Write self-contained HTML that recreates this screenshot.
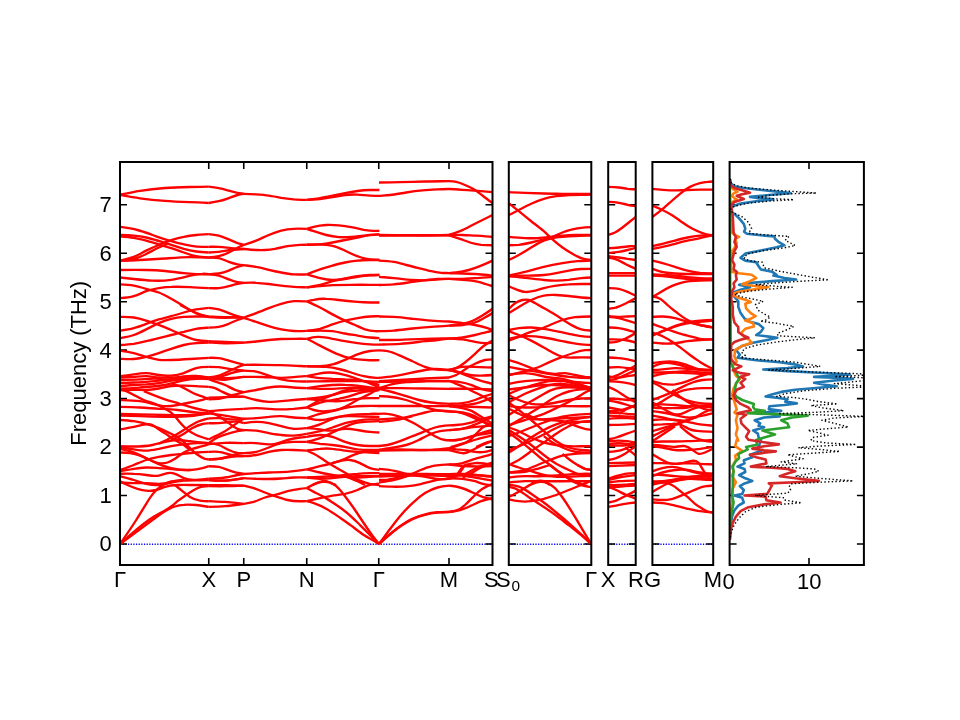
<!DOCTYPE html><html><head><meta charset="utf-8"><title>Phonon band structure</title>
<style>html,body{margin:0;padding:0;background:#fff;}body{width:960px;height:720px;overflow:hidden;font-family:"Liberation Sans",sans-serif;}svg{display:block}text{font-family:"Liberation Sans",sans-serif;fill:#000}</style></head><body>
<svg width="960" height="720" viewBox="0 0 960 720">
<rect width="960" height="720" fill="#fff"/>
<defs>
<clipPath id="c0"><rect x="120.00" y="162.00" width="372.50" height="403.00"/></clipPath>
<clipPath id="c1"><rect x="508.80" y="162.00" width="82.50" height="403.00"/></clipPath>
<clipPath id="c2"><rect x="608.20" y="162.00" width="27.50" height="403.00"/></clipPath>
<clipPath id="c3"><rect x="652.40" y="162.00" width="60.80" height="403.00"/></clipPath>
<clipPath id="c4"><rect x="729.60" y="162.00" width="134.30" height="403.00"/></clipPath>
</defs>
<line x1="120.00" y1="544.25" x2="492.50" y2="544.25" stroke="#0000ff" stroke-width="1.3" stroke-dasharray="1.2 1.46"/>
<line x1="508.80" y1="544.25" x2="591.30" y2="544.25" stroke="#0000ff" stroke-width="1.3" stroke-dasharray="1.2 1.46"/>
<line x1="608.20" y1="544.25" x2="635.70" y2="544.25" stroke="#0000ff" stroke-width="1.3" stroke-dasharray="1.2 1.46"/>
<line x1="652.40" y1="544.25" x2="713.20" y2="544.25" stroke="#0000ff" stroke-width="1.3" stroke-dasharray="1.2 1.46"/>
<path d="M120.00 544.00h7M492.50 544.00h-7M120.00 495.54h7M492.50 495.54h-7M120.00 447.08h7M492.50 447.08h-7M120.00 398.62h7M492.50 398.62h-7M120.00 350.16h7M492.50 350.16h-7M120.00 301.70h7M492.50 301.70h-7M120.00 253.24h7M492.50 253.24h-7M120.00 204.78h7M492.50 204.78h-7M508.80 544.00h7M591.30 544.00h-7M508.80 495.54h7M591.30 495.54h-7M508.80 447.08h7M591.30 447.08h-7M508.80 398.62h7M591.30 398.62h-7M508.80 350.16h7M591.30 350.16h-7M508.80 301.70h7M591.30 301.70h-7M508.80 253.24h7M591.30 253.24h-7M508.80 204.78h7M591.30 204.78h-7M608.20 544.00h7M635.70 544.00h-7M608.20 495.54h7M635.70 495.54h-7M608.20 447.08h7M635.70 447.08h-7M608.20 398.62h7M635.70 398.62h-7M608.20 350.16h7M635.70 350.16h-7M608.20 301.70h7M635.70 301.70h-7M608.20 253.24h7M635.70 253.24h-7M608.20 204.78h7M635.70 204.78h-7M652.40 544.00h7M713.20 544.00h-7M652.40 495.54h7M713.20 495.54h-7M652.40 447.08h7M713.20 447.08h-7M652.40 398.62h7M713.20 398.62h-7M652.40 350.16h7M713.20 350.16h-7M652.40 301.70h7M713.20 301.70h-7M652.40 253.24h7M713.20 253.24h-7M652.40 204.78h7M713.20 204.78h-7M729.60 544.00h7M863.90 544.00h-7M729.60 495.54h7M863.90 495.54h-7M729.60 447.08h7M863.90 447.08h-7M729.60 398.62h7M863.90 398.62h-7M729.60 350.16h7M863.90 350.16h-7M729.60 301.70h7M863.90 301.70h-7M729.60 253.24h7M863.90 253.24h-7M729.60 204.78h7M863.90 204.78h-7M208.75 162.00v7M208.75 565.00v-7M243.75 162.00v7M243.75 565.00v-7M306.75 162.00v7M306.75 565.00v-7M378.75 162.00v7M378.75 565.00v-7M449.00 162.00v7M449.00 565.00v-7M809.00 162.00v7M809.00 565.00v-7" stroke="#000" stroke-width="1.6" fill="none"/>
<path clip-path="url(#c0)" d="M120.0 194.7C126.7 193.3 133.3 191.9 140.0 190.8C148.3 189.5 156.7 188.6 165.0 188.0C173.3 187.4 181.7 187.2 190.0 187.0C196.2 186.9 202.5 186.8 208.8 186.6" stroke="#ff0000" stroke-width="2.35" fill="none" stroke-linejoin="round"/>
<path clip-path="url(#c0)" d="M120.0 195.0C126.7 196.2 133.3 197.4 140.0 198.3C148.3 199.5 156.7 200.3 165.0 200.8C173.3 201.4 181.7 201.8 190.0 202.2C196.2 202.4 202.5 202.7 208.8 203.0" stroke="#ff0000" stroke-width="2.35" fill="none" stroke-linejoin="round"/>
<path clip-path="url(#c0)" d="M120.0 226.9C125.8 227.7 131.7 228.5 137.5 230.0C142.5 231.3 147.5 233.2 152.5 235.0C156.7 236.5 160.8 238.1 165.0 239.4C169.2 240.7 173.3 241.8 177.5 242.9C181.7 243.9 185.8 244.9 190.0 245.6C194.2 246.3 198.3 246.8 202.5 246.9C204.6 246.9 206.7 246.9 208.8 246.8" stroke="#ff0000" stroke-width="2.35" fill="none" stroke-linejoin="round"/>
<path clip-path="url(#c0)" d="M120.0 235.0C124.6 235.1 129.2 235.2 133.8 235.6C137.9 236.0 142.1 236.6 146.2 237.5C150.4 238.4 154.6 239.8 158.8 241.0C162.9 242.2 167.1 243.4 171.2 244.8C175.4 246.1 179.6 247.5 183.8 248.8C187.9 250.0 192.1 250.9 196.2 251.5C200.4 252.1 204.6 252.3 208.8 252.5" stroke="#ff0000" stroke-width="2.35" fill="none" stroke-linejoin="round"/>
<path clip-path="url(#c0)" d="M120.0 236.2C124.6 236.6 129.2 237.0 133.8 237.8C137.9 238.4 142.1 239.5 146.2 240.6C150.4 241.8 154.6 243.1 158.8 244.4C162.9 245.6 167.1 246.8 171.2 248.1C175.4 249.5 179.6 251.0 183.8 252.5C187.9 254.0 192.1 255.4 196.2 256.2C200.4 257.1 204.6 257.3 208.8 257.5" stroke="#ff0000" stroke-width="2.35" fill="none" stroke-linejoin="round"/>
<path clip-path="url(#c0)" d="M120.0 260.6C124.6 259.7 129.2 258.7 133.8 256.9C137.9 255.2 142.1 252.7 146.2 250.6C150.4 248.5 154.6 246.7 158.8 245.0C162.9 243.3 167.1 241.6 171.2 240.2C175.4 238.9 179.6 237.7 183.8 236.9C187.9 236.0 192.1 235.4 196.2 235.0C200.4 234.6 204.6 234.4 208.8 234.1" stroke="#ff0000" stroke-width="2.35" fill="none" stroke-linejoin="round"/>
<path clip-path="url(#c0)" d="M120.0 260.6C124.6 260.4 129.2 260.2 133.8 259.0C137.9 257.9 142.1 256.1 146.2 254.0C150.4 251.9 154.6 249.4 158.8 247.5C161.7 246.2 164.6 245.1 167.5 244.0" stroke="#ff0000" stroke-width="2.35" fill="none" stroke-linejoin="round"/>
<path clip-path="url(#c0)" d="M120.0 260.6C126.7 260.5 133.3 260.3 140.0 260.0C148.3 259.6 156.7 259.1 165.0 258.5C173.3 257.9 181.7 257.2 190.0 257.1C196.2 257.1 202.5 257.3 208.8 257.6" stroke="#ff0000" stroke-width="2.35" fill="none" stroke-linejoin="round"/>
<path clip-path="url(#c0)" d="M120.0 270.0C128.8 269.9 137.5 269.8 146.2 270.0C152.5 270.1 158.8 270.4 165.0 271.0C171.2 271.6 177.5 272.5 183.8 273.1C187.9 273.6 192.1 273.9 196.2 274.1C200.4 274.3 204.6 274.3 208.8 274.4" stroke="#ff0000" stroke-width="2.35" fill="none" stroke-linejoin="round"/>
<path clip-path="url(#c0)" d="M120.0 277.5C124.6 278.0 129.2 278.5 133.8 279.0C140.0 279.7 146.2 280.4 152.5 280.6C158.8 280.9 165.0 280.7 171.2 279.8C177.5 278.8 183.8 277.1 190.0 275.6C194.2 274.7 198.3 273.8 202.5 273.8C204.6 273.7 206.7 273.9 208.8 274.1" stroke="#ff0000" stroke-width="2.35" fill="none" stroke-linejoin="round"/>
<path clip-path="url(#c0)" d="M120.0 284.4C124.6 284.6 129.2 284.8 133.8 285.6C137.9 286.4 142.1 287.6 146.2 288.8C150.4 289.9 154.6 290.9 158.8 292.5C162.9 294.1 167.1 296.4 171.2 298.8C175.4 301.1 179.6 303.7 183.8 306.2C187.9 308.8 192.1 311.4 196.2 313.1C200.4 314.8 204.6 315.7 208.8 316.6" stroke="#ff0000" stroke-width="2.35" fill="none" stroke-linejoin="round"/>
<path clip-path="url(#c0)" d="M120.0 298.1C124.6 297.9 129.2 297.6 133.8 296.2C137.9 295.0 142.1 292.8 146.2 291.2C150.4 289.7 154.6 288.8 158.8 288.1C162.9 287.5 167.1 287.0 171.2 286.9C177.5 286.6 183.8 286.9 190.0 287.2C196.2 287.6 202.5 287.9 208.8 288.2" stroke="#ff0000" stroke-width="2.35" fill="none" stroke-linejoin="round"/>
<path clip-path="url(#c0)" d="M180.0 305.0C183.3 306.6 186.7 308.3 190.0 310.0C193.3 311.7 196.7 313.5 200.0 314.8C202.9 315.8 205.8 316.5 208.8 317.1" stroke="#ff0000" stroke-width="2.35" fill="none" stroke-linejoin="round"/>
<path clip-path="url(#c0)" d="M120.0 330.6C124.6 330.0 129.2 329.4 133.8 328.1C137.9 327.0 142.1 325.4 146.2 323.8C150.4 322.1 154.6 320.6 158.8 319.4C162.9 318.2 167.1 317.4 171.2 316.2C175.4 315.1 179.6 313.8 183.8 312.5C187.9 311.2 192.1 310.1 196.2 309.4C200.4 308.6 204.6 308.3 208.8 307.9" stroke="#ff0000" stroke-width="2.35" fill="none" stroke-linejoin="round"/>
<path clip-path="url(#c0)" d="M120.0 316.9C124.6 316.9 129.2 316.8 133.8 317.5C137.9 318.1 142.1 319.3 146.2 320.6C150.4 322.0 154.6 323.4 158.8 325.0C162.9 326.6 167.1 328.2 171.2 330.0C175.4 331.8 179.6 333.8 183.8 335.6C187.9 337.4 192.1 339.1 196.2 340.0C200.4 340.9 204.6 341.1 208.8 341.2" stroke="#ff0000" stroke-width="2.35" fill="none" stroke-linejoin="round"/>
<path clip-path="url(#c0)" d="M120.0 338.1C124.6 337.3 129.2 336.6 133.8 335.0C137.9 333.6 142.1 331.5 146.2 329.4C150.4 327.2 154.6 325.0 158.8 323.1C162.9 321.3 167.1 319.8 171.2 318.8C175.4 317.7 179.6 317.2 183.8 316.9C187.9 316.6 192.1 316.5 196.2 316.5C200.4 316.5 204.6 316.5 208.8 316.6" stroke="#ff0000" stroke-width="2.35" fill="none" stroke-linejoin="round"/>
<path clip-path="url(#c0)" d="M120.0 345.0C124.6 344.7 129.2 344.4 133.8 343.8C137.9 343.1 142.1 342.2 146.2 341.2C150.4 340.3 154.6 339.2 158.8 338.1C162.9 337.1 167.1 336.0 171.2 335.0C175.4 334.0 179.6 333.0 183.8 331.9C187.9 330.7 192.1 329.5 196.2 328.8C200.4 328.0 204.6 327.9 208.8 327.7" stroke="#ff0000" stroke-width="2.35" fill="none" stroke-linejoin="round"/>
<path clip-path="url(#c0)" d="M120.0 350.6C124.6 351.3 129.2 352.0 133.8 353.1C137.9 354.2 142.1 355.6 146.2 356.9C150.4 358.1 154.6 359.2 158.8 359.8C162.9 360.3 167.1 360.2 171.2 360.0C177.5 359.8 183.8 359.4 190.0 359.0C196.2 358.6 202.5 358.2 208.8 357.8" stroke="#ff0000" stroke-width="2.35" fill="none" stroke-linejoin="round"/>
<path clip-path="url(#c0)" d="M120.0 358.8C124.6 359.0 129.2 359.3 133.8 359.0C137.9 358.7 142.1 357.9 146.2 356.9C150.4 355.8 154.6 354.5 158.8 353.1C162.9 351.7 167.1 350.2 171.2 348.8C175.4 347.3 179.6 346.0 183.8 345.0C187.9 344.0 192.1 343.5 196.2 343.1C200.4 342.8 204.6 342.6 208.8 342.5" stroke="#ff0000" stroke-width="2.35" fill="none" stroke-linejoin="round"/>
<path clip-path="url(#c0)" d="M120.0 376.2C124.6 375.7 129.2 375.1 133.8 374.4C137.9 373.7 142.1 373.0 146.2 373.1C150.4 373.3 154.6 374.4 158.8 375.0C162.9 375.6 167.1 375.9 171.2 375.6C175.4 375.4 179.6 374.6 183.8 373.1C187.9 371.6 192.1 369.3 196.2 368.1C200.4 366.9 204.6 366.8 208.8 366.8" stroke="#ff0000" stroke-width="2.35" fill="none" stroke-linejoin="round"/>
<path clip-path="url(#c0)" d="M120.0 377.5C124.6 377.4 129.2 377.2 133.8 376.9C137.9 376.6 142.1 376.1 146.2 376.2C150.4 376.4 154.6 377.2 158.8 377.5C162.9 377.8 167.1 377.7 171.2 377.5C175.4 377.3 179.6 377.2 183.8 376.9C187.9 376.6 192.1 376.1 196.2 376.2C200.4 376.4 204.6 377.0 208.8 377.6" stroke="#ff0000" stroke-width="2.35" fill="none" stroke-linejoin="round"/>
<path clip-path="url(#c0)" d="M120.0 380.0C126.7 379.9 133.3 379.8 140.0 379.4C146.2 379.0 152.5 378.2 158.8 378.8C162.9 379.1 167.1 380.0 171.2 380.0C175.4 380.0 179.6 379.2 183.8 378.8C187.9 378.3 192.1 378.3 196.2 378.1C200.4 378.0 204.6 377.7 208.8 377.5" stroke="#ff0000" stroke-width="2.35" fill="none" stroke-linejoin="round"/>
<path clip-path="url(#c0)" d="M120.0 383.1C124.6 382.9 129.2 382.7 133.8 382.5C137.9 382.3 142.1 382.2 146.2 381.9C150.4 381.6 154.6 381.1 158.8 380.6C162.9 380.1 167.1 379.5 171.2 378.8C175.4 378.0 179.6 377.1 183.8 376.5C187.9 375.9 192.1 375.7 196.2 376.0C200.4 376.3 204.6 377.3 208.8 378.2" stroke="#ff0000" stroke-width="2.35" fill="none" stroke-linejoin="round"/>
<path clip-path="url(#c0)" d="M120.0 386.2C124.6 385.8 129.2 385.3 133.8 385.0C137.9 384.7 142.1 384.6 146.2 384.4C150.4 384.1 154.6 383.8 158.8 383.1C162.9 382.4 167.1 381.4 171.2 380.6C175.4 379.8 179.6 379.2 183.8 378.8C187.9 378.3 192.1 378.0 196.2 378.1C200.4 378.2 204.6 378.7 208.8 379.2" stroke="#ff0000" stroke-width="2.35" fill="none" stroke-linejoin="round"/>
<path clip-path="url(#c0)" d="M120.0 388.8C122.5 388.7 125.0 388.6 127.5 388.5C131.7 388.3 135.8 387.9 140.0 387.5C144.2 387.1 148.3 386.8 152.5 386.5C156.7 386.2 160.8 385.8 165.0 385.0C168.3 384.4 171.7 383.4 175.0 382.5C178.3 381.6 181.7 380.6 185.0 380.0C188.8 379.3 192.5 379.0 196.2 378.8C200.4 378.5 204.6 378.4 208.8 378.3" stroke="#ff0000" stroke-width="2.35" fill="none" stroke-linejoin="round"/>
<path clip-path="url(#c0)" d="M120.0 390.0C124.6 389.8 129.2 389.7 133.8 389.8C137.9 389.8 142.1 390.1 146.2 390.0C150.4 389.9 154.6 389.3 158.8 388.5C162.9 387.7 167.1 386.5 171.2 386.0C175.4 385.5 179.6 385.5 183.8 385.6C187.9 385.8 192.1 386.0 196.2 386.2C200.4 386.5 204.6 386.7 208.8 386.9" stroke="#ff0000" stroke-width="2.35" fill="none" stroke-linejoin="round"/>
<path clip-path="url(#c0)" d="M171.2 384.4C174.2 384.8 177.1 385.2 180.0 386.2C182.5 387.2 185.0 388.6 187.5 390.0C190.4 391.6 193.3 393.2 196.2 394.4C199.2 395.5 202.1 396.2 205.0 397.5C206.2 398.1 207.5 398.7 208.8 399.4" stroke="#ff0000" stroke-width="2.35" fill="none" stroke-linejoin="round"/>
<path clip-path="url(#c0)" d="M120.0 389.8C122.1 390.1 124.2 390.5 126.2 391.2C129.2 392.3 132.1 394.0 135.0 395.6C137.9 397.3 140.8 398.8 143.8 400.0C147.9 401.7 152.1 402.7 156.2 404.4C159.2 405.6 162.1 407.2 165.0 408.8C167.9 410.3 170.8 412.0 173.8 415.0C175.8 417.2 177.9 420.0 180.0 422.5C182.1 425.0 184.2 427.0 186.2 428.8C189.6 431.5 192.9 433.5 196.2 435.0C200.4 436.9 204.6 438.1 208.8 439.4" stroke="#ff0000" stroke-width="2.35" fill="none" stroke-linejoin="round"/>
<path clip-path="url(#c0)" d="M143.8 391.2C147.9 392.9 152.1 394.6 156.2 396.2C160.4 397.9 164.6 399.4 168.8 400.6C172.5 401.7 176.2 402.6 180.0 403.8C183.3 404.7 186.7 405.9 190.0 406.9C194.2 408.1 198.3 409.1 202.5 410.0C204.6 410.4 206.7 410.8 208.8 411.2" stroke="#ff0000" stroke-width="2.35" fill="none" stroke-linejoin="round"/>
<path clip-path="url(#c0)" d="M120.0 400.0C126.7 400.2 133.3 400.3 140.0 401.2C144.2 401.8 148.3 402.7 152.5 403.8C156.7 404.8 160.8 406.0 165.0 406.2C169.2 406.5 173.3 405.8 177.5 405.0C181.7 404.2 185.8 403.3 190.0 402.5C194.2 401.7 198.3 401.0 202.5 399.8C204.6 399.1 206.7 398.4 208.8 397.6" stroke="#ff0000" stroke-width="2.35" fill="none" stroke-linejoin="round"/>
<path clip-path="url(#c0)" d="M120.0 406.9C126.7 407.0 133.3 407.1 140.0 407.5C146.2 407.8 152.5 408.4 158.8 408.8C165.0 409.1 171.2 409.3 177.5 410.0C183.8 410.7 190.0 411.8 196.2 412.5C200.4 413.0 204.6 413.2 208.8 413.4" stroke="#ff0000" stroke-width="2.35" fill="none" stroke-linejoin="round"/>
<path clip-path="url(#c0)" d="M120.0 413.8C126.7 414.0 133.3 414.2 140.0 414.4C148.3 414.6 156.7 414.8 165.0 415.0C173.3 415.2 181.7 415.4 190.0 415.0C196.2 414.7 202.5 414.1 208.8 413.4" stroke="#ff0000" stroke-width="2.35" fill="none" stroke-linejoin="round"/>
<path clip-path="url(#c0)" d="M120.0 415.6C126.7 415.8 133.3 416.0 140.0 416.2C148.3 416.5 156.7 416.7 165.0 416.9C173.3 417.0 181.7 417.1 190.0 416.2C196.2 415.6 202.5 414.5 208.8 413.4" stroke="#ff0000" stroke-width="2.35" fill="none" stroke-linejoin="round"/>
<path clip-path="url(#c0)" d="M120.0 420.0C124.6 420.3 129.2 420.6 133.8 421.2C137.9 421.8 142.1 422.6 146.2 423.8C150.4 424.9 154.6 426.4 158.8 428.1C162.9 429.8 167.1 431.8 171.2 433.8C174.2 435.1 177.1 436.5 180.0 438.8C183.3 441.3 186.7 444.9 190.0 448.1C192.1 450.2 194.2 452.1 196.2 453.8C199.2 456.1 202.1 457.9 205.0 458.8C206.2 459.1 207.5 459.3 208.8 459.5" stroke="#ff0000" stroke-width="2.35" fill="none" stroke-linejoin="round"/>
<path clip-path="url(#c0)" d="M120.0 429.4C124.6 428.6 129.2 427.9 133.8 426.9C137.9 426.0 142.1 424.8 146.2 424.4C148.3 424.1 150.4 424.1 152.5 425.0C154.6 425.9 156.7 427.8 158.8 429.4C161.7 431.6 164.6 433.1 167.5 435.0C170.0 436.6 172.5 438.5 175.0 440.0C177.9 441.8 180.8 443.0 183.8 445.0C185.8 446.4 187.9 448.2 190.0 450.0" stroke="#ff0000" stroke-width="2.35" fill="none" stroke-linejoin="round"/>
<path clip-path="url(#c0)" d="M158.8 443.8C162.9 441.8 167.1 439.8 171.2 437.5C175.4 435.2 179.6 432.7 183.8 430.0C187.9 427.3 192.1 424.5 196.2 422.5C200.4 420.5 204.6 419.5 208.8 418.4" stroke="#ff0000" stroke-width="2.35" fill="none" stroke-linejoin="round"/>
<path clip-path="url(#c0)" d="M171.2 440.0C175.4 438.1 179.6 436.3 183.8 433.8C186.7 432.0 189.6 429.8 192.5 428.1C195.8 426.2 199.2 424.7 202.5 424.0C204.6 423.5 206.7 423.4 208.8 423.2" stroke="#ff0000" stroke-width="2.35" fill="none" stroke-linejoin="round"/>
<path clip-path="url(#c0)" d="M120.0 446.2C130.8 446.7 141.7 447.2 152.5 445.0C156.7 444.1 160.8 442.9 165.0 441.9C169.2 440.8 173.3 440.0 177.5 440.0C181.7 440.0 185.8 440.7 190.0 441.2C196.2 442.1 202.5 442.6 208.8 443.1" stroke="#ff0000" stroke-width="2.35" fill="none" stroke-linejoin="round"/>
<path clip-path="url(#c0)" d="M120.0 447.5C124.6 448.1 129.2 448.7 133.8 449.4C137.9 450.0 142.1 450.7 146.2 450.6C150.4 450.5 154.6 449.6 158.8 448.8C162.9 447.9 167.1 447.0 171.2 446.2C175.4 445.5 179.6 444.9 183.8 444.4C187.9 443.8 192.1 443.3 196.2 443.1C200.4 442.9 204.6 443.0 208.8 443.1" stroke="#ff0000" stroke-width="2.35" fill="none" stroke-linejoin="round"/>
<path clip-path="url(#c0)" d="M120.0 448.8C123.3 449.5 126.7 450.3 130.0 451.2C133.3 452.2 136.7 453.5 140.0 455.0C144.2 456.9 148.3 459.2 152.5 461.2C155.8 462.9 159.2 464.4 162.5 465.6C165.4 466.7 168.3 467.5 171.2 468.1C177.5 469.5 183.8 470.3 190.0 470.0C194.2 469.8 198.3 469.2 202.5 468.1C204.6 467.6 206.7 466.9 208.8 466.2" stroke="#ff0000" stroke-width="2.35" fill="none" stroke-linejoin="round"/>
<path clip-path="url(#c0)" d="M120.0 452.5C123.3 452.6 126.7 452.7 130.0 453.1C133.3 453.6 136.7 454.4 140.0 455.6C143.3 456.8 146.7 458.5 150.0 460.0C152.9 461.3 155.8 462.6 158.8 463.1C161.7 463.6 164.6 463.4 167.5 462.5C170.0 461.7 172.5 460.4 175.0 458.8C177.9 456.8 180.8 454.3 183.8 452.5C186.7 450.7 189.6 449.6 192.5 448.8C195.8 447.8 199.2 447.2 202.5 446.2C204.6 445.7 206.7 445.0 208.8 444.2" stroke="#ff0000" stroke-width="2.35" fill="none" stroke-linejoin="round"/>
<path clip-path="url(#c0)" d="M120.0 470.0C124.6 468.4 129.2 466.8 133.8 465.0C137.9 463.3 142.1 461.4 146.2 460.0C150.4 458.6 154.6 457.7 158.8 456.9C162.9 456.1 167.1 455.5 171.2 455.0C175.4 454.5 179.6 454.2 183.8 453.8C187.9 453.3 192.1 452.8 196.2 452.5C200.4 452.2 204.6 452.0 208.8 451.9" stroke="#ff0000" stroke-width="2.35" fill="none" stroke-linejoin="round"/>
<path clip-path="url(#c0)" d="M120.0 471.2C124.6 470.4 129.2 469.5 133.8 468.8C137.9 468.1 142.1 467.6 146.2 467.5C150.4 467.4 154.6 467.8 158.8 468.1C162.9 468.4 167.1 468.6 171.2 469.0C174.2 469.3 177.1 469.6 180.0 469.8C183.3 470.0 186.7 470.0 190.0 470.0" stroke="#ff0000" stroke-width="2.35" fill="none" stroke-linejoin="round"/>
<path clip-path="url(#c0)" d="M120.0 473.8C124.6 473.6 129.2 473.5 133.8 473.8C137.9 473.9 142.1 474.4 146.2 475.0C150.4 475.6 154.6 476.5 158.8 475.6C161.7 475.0 164.6 473.7 167.5 473.1C170.0 472.7 172.5 472.8 175.0 473.8C177.9 474.8 180.8 476.9 183.8 478.1C187.9 479.9 192.1 480.0 196.2 479.8C200.4 479.5 204.6 479.1 208.8 478.6" stroke="#ff0000" stroke-width="2.35" fill="none" stroke-linejoin="round"/>
<path clip-path="url(#c0)" d="M120.0 476.2C124.6 477.4 129.2 478.6 133.8 480.0C137.9 481.3 142.1 482.7 146.2 483.8C150.4 484.8 154.6 485.3 158.8 485.0C162.9 484.7 167.1 483.4 171.2 482.5C175.4 481.6 179.6 480.9 183.8 480.6C187.9 480.3 192.1 480.3 196.2 480.2C200.4 480.2 204.6 480.2 208.8 480.1" stroke="#ff0000" stroke-width="2.35" fill="none" stroke-linejoin="round"/>
<path clip-path="url(#c0)" d="M120.0 481.2C122.5 482.6 125.0 483.9 127.5 485.0C130.8 486.5 134.2 487.8 137.5 488.8C140.4 489.6 143.3 490.3 146.2 490.6C149.6 491.0 152.9 490.9 156.2 490.0C159.2 489.2 162.1 487.8 165.0 486.9C169.2 485.5 173.3 485.1 177.5 485.0C181.7 484.9 185.8 484.9 190.0 485.0C196.2 485.1 202.5 485.1 208.8 485.1" stroke="#ff0000" stroke-width="2.35" fill="none" stroke-linejoin="round"/>
<path clip-path="url(#c0)" d="M120.0 482.5C124.6 482.8 129.2 483.1 133.8 483.1C137.9 483.2 142.1 483.0 146.2 483.1C150.4 483.3 154.6 483.8 158.8 483.8C162.9 483.7 167.1 483.1 171.2 482.5" stroke="#ff0000" stroke-width="2.35" fill="none" stroke-linejoin="round"/>
<path clip-path="url(#c0)" d="M120.0 544.0C125.4 536.3 130.8 528.6 136.2 520.0C139.6 514.7 142.9 509.1 146.2 503.8C148.3 500.4 150.4 497.1 152.5 494.4C154.6 491.6 156.7 489.5 158.8 487.8C160.8 486.0 162.9 484.7 165.0 483.8C167.1 482.8 169.2 482.0 171.2 481.5C175.4 480.4 179.6 480.1 183.8 479.8" stroke="#ff0000" stroke-width="2.35" fill="none" stroke-linejoin="round"/>
<path clip-path="url(#c0)" d="M120.0 544.0C129.6 535.4 139.2 526.7 148.8 520.0C152.1 517.7 155.4 515.6 158.8 513.8C162.9 511.5 167.1 509.7 171.2 506.5C173.3 504.9 175.4 503.0 177.5 501.2C180.4 498.9 183.3 497.0 186.2 495.0C189.6 492.8 192.9 490.4 196.2 488.8C198.3 487.7 200.4 486.9 202.5 486.5C204.6 486.1 206.7 486.1 208.8 486.1" stroke="#ff0000" stroke-width="2.35" fill="none" stroke-linejoin="round"/>
<path clip-path="url(#c0)" d="M120.0 544.0C130.8 536.0 141.7 528.1 152.5 520.0C156.7 516.9 160.8 513.8 165.0 511.2C168.3 509.2 171.7 507.6 175.0 506.5C177.9 505.5 180.8 505.0 183.8 504.8C187.9 504.4 192.1 504.6 196.2 505.0C200.4 505.4 204.6 506.2 208.8 506.9" stroke="#ff0000" stroke-width="2.35" fill="none" stroke-linejoin="round"/>
<path clip-path="url(#c0)" d="M175.0 485.0C177.5 487.1 180.0 489.2 182.5 491.2C185.0 493.3 187.5 495.3 190.0 496.9C193.3 498.9 196.7 500.1 200.0 500.6C202.9 501.1 205.8 501.2 208.8 501.2" stroke="#ff0000" stroke-width="2.35" fill="none" stroke-linejoin="round"/>
<path clip-path="url(#c0)" d="M208.8 186.6C212.1 187.1 215.4 187.5 218.8 188.1C222.1 188.8 225.4 189.7 228.8 190.6C231.7 191.5 234.6 192.3 237.5 192.9C239.6 193.3 241.7 193.5 243.8 193.8" stroke="#ff0000" stroke-width="2.35" fill="none" stroke-linejoin="round"/>
<path clip-path="url(#c0)" d="M208.8 203.0C212.1 202.5 215.4 202.0 218.8 201.2C222.1 200.5 225.4 199.4 228.8 198.1C231.7 197.0 234.6 195.8 237.5 195.0C239.6 194.4 241.7 194.1 243.8 193.8" stroke="#ff0000" stroke-width="2.35" fill="none" stroke-linejoin="round"/>
<path clip-path="url(#c0)" d="M243.8 193.8C247.9 193.9 252.1 194.1 256.2 194.4C260.4 194.7 264.6 195.0 268.8 195.6C272.9 196.2 277.1 197.0 281.2 197.8C285.4 198.5 289.6 199.0 293.8 199.4C298.1 199.7 302.4 199.8 306.8 199.9" stroke="#ff0000" stroke-width="2.35" fill="none" stroke-linejoin="round"/>
<path clip-path="url(#c0)" d="M208.8 234.1C212.1 234.4 215.4 234.8 218.8 235.6C222.1 236.5 225.4 237.9 228.8 239.4C231.7 240.7 234.6 242.1 237.5 243.1C239.6 243.8 241.7 244.3 243.8 244.8" stroke="#ff0000" stroke-width="2.35" fill="none" stroke-linejoin="round"/>
<path clip-path="url(#c0)" d="M208.8 257.5C212.1 257.3 215.4 257.0 218.8 256.2C222.9 255.3 227.1 253.5 231.2 251.2C233.3 250.1 235.4 248.9 237.5 247.8C239.6 246.6 241.7 245.7 243.8 244.8" stroke="#ff0000" stroke-width="2.35" fill="none" stroke-linejoin="round"/>
<path clip-path="url(#c0)" d="M208.8 246.8C212.1 246.8 215.4 246.7 218.8 246.9C222.9 247.1 227.1 247.7 231.2 248.1C235.4 248.5 239.6 248.8 243.8 249.0" stroke="#ff0000" stroke-width="2.35" fill="none" stroke-linejoin="round"/>
<path clip-path="url(#c0)" d="M208.8 252.5C212.1 252.4 215.4 252.3 218.8 251.9C222.9 251.4 227.1 250.5 231.2 250.0C235.4 249.5 239.6 249.2 243.8 249.0" stroke="#ff0000" stroke-width="2.35" fill="none" stroke-linejoin="round"/>
<path clip-path="url(#c0)" d="M243.8 244.8C247.9 243.5 252.1 242.3 256.2 240.6C260.4 238.9 264.6 236.8 268.8 235.0C272.9 233.2 277.1 231.7 281.2 230.6C285.4 229.6 289.6 229.0 293.8 228.8C298.1 228.5 302.4 228.7 306.8 228.9" stroke="#ff0000" stroke-width="2.35" fill="none" stroke-linejoin="round"/>
<path clip-path="url(#c0)" d="M243.8 249.0C247.9 249.4 252.1 249.8 256.2 250.0C259.2 250.1 262.1 250.2 265.0 250.0C268.3 249.8 271.7 249.4 275.0 248.8C279.2 248.0 283.3 247.0 287.5 246.2C291.7 245.5 295.8 244.9 300.0 244.8C302.2 244.7 304.5 244.7 306.8 244.7" stroke="#ff0000" stroke-width="2.35" fill="none" stroke-linejoin="round"/>
<path clip-path="url(#c0)" d="M208.8 257.6C212.1 257.5 215.4 257.4 218.8 258.1C222.1 258.9 225.4 260.6 228.8 261.9C231.7 263.0 234.6 263.8 237.5 264.4C239.6 264.8 241.7 265.0 243.8 265.2" stroke="#ff0000" stroke-width="2.35" fill="none" stroke-linejoin="round"/>
<path clip-path="url(#c0)" d="M208.8 274.1C212.1 274.0 215.4 274.0 218.8 273.5C222.1 273.0 225.4 272.0 228.8 270.6C231.7 269.4 234.6 267.9 237.5 266.9C239.6 266.2 241.7 265.7 243.8 265.2" stroke="#ff0000" stroke-width="2.35" fill="none" stroke-linejoin="round"/>
<path clip-path="url(#c0)" d="M208.8 274.4C212.1 274.6 215.4 274.8 218.8 275.6C222.1 276.5 225.4 278.0 228.8 279.4C231.7 280.6 234.6 281.7 237.5 282.2C239.6 282.6 241.7 282.7 243.8 282.8" stroke="#ff0000" stroke-width="2.35" fill="none" stroke-linejoin="round"/>
<path clip-path="url(#c0)" d="M208.8 288.2C212.1 288.3 215.4 288.4 218.8 288.1C222.1 287.8 225.4 287.2 228.8 286.2C231.7 285.4 234.6 284.4 237.5 283.8C239.6 283.3 241.7 283.0 243.8 282.8" stroke="#ff0000" stroke-width="2.35" fill="none" stroke-linejoin="round"/>
<path clip-path="url(#c0)" d="M243.8 265.2C247.9 265.7 252.1 266.1 256.2 266.9C260.4 267.6 264.6 268.7 268.8 269.8C272.9 270.8 277.1 271.7 281.2 272.5C285.4 273.3 289.6 274.1 293.8 274.4C298.1 274.7 302.4 274.5 306.8 274.4" stroke="#ff0000" stroke-width="2.35" fill="none" stroke-linejoin="round"/>
<path clip-path="url(#c0)" d="M243.8 282.8C247.9 282.6 252.1 282.5 256.2 282.8C260.4 283.0 264.6 283.5 268.8 284.0C272.9 284.5 277.1 285.1 281.2 285.6C285.4 286.1 289.6 286.6 293.8 286.9C298.1 287.2 302.4 287.2 306.8 287.3" stroke="#ff0000" stroke-width="2.35" fill="none" stroke-linejoin="round"/>
<path clip-path="url(#c0)" d="M208.8 307.9C212.1 308.2 215.4 308.5 218.8 309.4C222.1 310.3 225.4 311.8 228.8 313.1C231.7 314.3 234.6 315.4 237.5 316.2C239.6 316.8 241.7 317.3 243.8 317.8" stroke="#ff0000" stroke-width="2.35" fill="none" stroke-linejoin="round"/>
<path clip-path="url(#c0)" d="M208.8 316.6C214.2 316.8 219.6 317.1 225.0 317.1C229.2 317.1 233.3 317.0 237.5 317.2C239.6 317.4 241.7 317.6 243.8 317.8" stroke="#ff0000" stroke-width="2.35" fill="none" stroke-linejoin="round"/>
<path clip-path="url(#c0)" d="M208.8 317.1C214.2 317.4 219.6 317.7 225.0 317.8C229.2 317.8 233.3 317.6 237.5 317.6C239.6 317.6 241.7 317.7 243.8 317.8" stroke="#ff0000" stroke-width="2.35" fill="none" stroke-linejoin="round"/>
<path clip-path="url(#c0)" d="M208.8 327.7C212.1 327.6 215.4 327.5 218.8 326.9C222.1 326.3 225.4 325.1 228.8 323.8C231.7 322.5 234.6 321.2 237.5 320.0C239.6 319.2 241.7 318.5 243.8 317.8" stroke="#ff0000" stroke-width="2.35" fill="none" stroke-linejoin="round"/>
<path clip-path="url(#c0)" d="M243.8 317.8C247.9 316.2 252.1 314.7 256.2 313.1C260.4 311.5 264.6 309.8 268.8 308.1C272.9 306.5 277.1 305.0 281.2 303.8C285.4 302.5 289.6 301.6 293.8 301.2C298.1 300.9 302.4 301.2 306.8 301.4" stroke="#ff0000" stroke-width="2.35" fill="none" stroke-linejoin="round"/>
<path clip-path="url(#c0)" d="M243.8 317.8C247.9 319.1 252.1 320.4 256.2 321.9C260.4 323.3 264.6 324.9 268.8 326.2C272.9 327.6 277.1 328.6 281.2 329.4C285.4 330.2 289.6 330.8 293.8 331.0C298.1 331.2 302.4 331.1 306.8 330.9" stroke="#ff0000" stroke-width="2.35" fill="none" stroke-linejoin="round"/>
<path clip-path="url(#c0)" d="M208.8 341.2C214.2 341.5 219.6 341.7 225.0 341.9C231.2 342.1 237.5 342.4 243.8 342.6" stroke="#ff0000" stroke-width="2.35" fill="none" stroke-linejoin="round"/>
<path clip-path="url(#c0)" d="M208.8 342.5C214.2 342.8 219.6 343.2 225.0 343.2C231.2 343.3 237.5 343.0 243.8 342.6" stroke="#ff0000" stroke-width="2.35" fill="none" stroke-linejoin="round"/>
<path clip-path="url(#c0)" d="M243.8 342.6C247.9 342.3 252.1 342.0 256.2 341.5C260.4 341.0 264.6 340.5 268.8 340.0C272.9 339.5 277.1 339.2 281.2 339.0C285.4 338.8 289.6 338.8 293.8 338.8C298.1 338.7 302.4 338.7 306.8 338.8" stroke="#ff0000" stroke-width="2.35" fill="none" stroke-linejoin="round"/>
<path clip-path="url(#c0)" d="M208.8 357.8C212.1 357.7 215.4 357.7 218.8 358.1C222.1 358.6 225.4 359.6 228.8 360.6C231.7 361.5 234.6 362.3 237.5 363.1C239.6 363.7 241.7 364.2 243.8 364.8" stroke="#ff0000" stroke-width="2.35" fill="none" stroke-linejoin="round"/>
<path clip-path="url(#c0)" d="M243.8 364.8C250.0 364.7 256.2 364.7 262.5 364.8C268.8 364.8 275.0 365.0 281.2 365.2C287.5 365.5 293.8 365.8 300.0 366.0C302.2 366.1 304.5 366.2 306.8 366.2" stroke="#ff0000" stroke-width="2.35" fill="none" stroke-linejoin="round"/>
<path clip-path="url(#c0)" d="M208.8 377.5C212.1 377.1 215.4 376.7 218.8 375.6C222.1 374.6 225.4 372.9 228.8 371.2C231.7 369.8 234.6 368.5 237.5 367.2C239.6 366.4 241.7 365.6 243.8 364.8" stroke="#ff0000" stroke-width="2.35" fill="none" stroke-linejoin="round"/>
<path clip-path="url(#c0)" d="M208.8 366.8C212.1 366.8 215.4 366.9 218.8 367.2C222.9 367.7 227.1 368.5 231.2 369.1C235.4 369.8 239.6 370.2 243.8 370.6" stroke="#ff0000" stroke-width="2.35" fill="none" stroke-linejoin="round"/>
<path clip-path="url(#c0)" d="M208.8 378.3C212.1 378.0 215.4 377.6 218.8 376.9C222.9 376.0 227.1 374.4 231.2 373.1C234.2 372.2 237.1 371.4 240.0 371.0C241.2 370.8 242.5 370.7 243.8 370.6" stroke="#ff0000" stroke-width="2.35" fill="none" stroke-linejoin="round"/>
<path clip-path="url(#c0)" d="M243.8 370.6C247.9 370.7 252.1 370.8 256.2 371.6C260.4 372.5 264.6 374.1 268.8 375.6C272.9 377.1 277.1 378.4 281.2 379.4C285.4 380.3 289.6 381.0 293.8 381.2C298.1 381.6 302.4 381.5 306.8 381.5" stroke="#ff0000" stroke-width="2.35" fill="none" stroke-linejoin="round"/>
<path clip-path="url(#c0)" d="M208.8 377.6C214.2 378.0 219.6 378.3 225.0 378.2C231.2 378.2 237.5 377.5 243.8 376.9" stroke="#ff0000" stroke-width="2.35" fill="none" stroke-linejoin="round"/>
<path clip-path="url(#c0)" d="M208.8 378.2C214.2 379.2 219.6 380.1 225.0 379.8C229.2 379.5 233.3 378.4 237.5 377.8C239.6 377.4 241.7 377.1 243.8 376.9" stroke="#ff0000" stroke-width="2.35" fill="none" stroke-linejoin="round"/>
<path clip-path="url(#c0)" d="M243.8 376.9C250.0 376.8 256.2 376.8 262.5 377.0C268.8 377.2 275.0 377.7 281.2 377.8C285.4 377.8 289.6 377.5 293.8 377.2C298.1 376.9 302.4 376.5 306.8 376.1" stroke="#ff0000" stroke-width="2.35" fill="none" stroke-linejoin="round"/>
<path clip-path="url(#c0)" d="M208.8 379.2C211.2 380.1 213.8 381.0 216.2 381.9C219.2 382.9 222.1 383.7 225.0 385.0C228.3 386.5 231.7 388.4 235.0 389.8C237.9 390.9 240.8 391.6 243.8 392.2" stroke="#ff0000" stroke-width="2.35" fill="none" stroke-linejoin="round"/>
<path clip-path="url(#c0)" d="M208.8 386.9C210.8 387.1 212.9 387.4 215.0 388.1C217.5 389.0 220.0 390.6 222.5 391.9C225.0 393.2 227.5 394.3 230.0 395.0C232.5 395.7 235.0 396.2 237.5 396.4C239.6 396.6 241.7 396.6 243.8 396.6" stroke="#ff0000" stroke-width="2.35" fill="none" stroke-linejoin="round"/>
<path clip-path="url(#c0)" d="M208.8 399.4C212.1 399.3 215.4 399.2 218.8 398.8C222.9 398.2 227.1 396.9 231.2 395.6C233.3 395.0 235.4 394.3 237.5 393.8C239.6 393.2 241.7 392.7 243.8 392.2" stroke="#ff0000" stroke-width="2.35" fill="none" stroke-linejoin="round"/>
<path clip-path="url(#c0)" d="M208.8 397.6C214.2 397.5 219.6 397.4 225.0 397.2C231.2 397.1 237.5 396.9 243.8 396.6" stroke="#ff0000" stroke-width="2.35" fill="none" stroke-linejoin="round"/>
<path clip-path="url(#c0)" d="M243.8 392.2C247.9 391.5 252.1 390.8 256.2 390.0C260.4 389.2 264.6 388.2 268.8 387.5C272.9 386.8 277.1 386.4 281.2 386.5C285.4 386.6 289.6 387.1 293.8 387.5C298.1 387.9 302.4 388.0 306.8 388.1" stroke="#ff0000" stroke-width="2.35" fill="none" stroke-linejoin="round"/>
<path clip-path="url(#c0)" d="M243.8 396.6C247.9 397.8 252.1 399.0 256.2 400.0C260.4 401.0 264.6 401.7 268.8 401.9C272.9 402.1 277.1 401.7 281.2 401.2C285.4 400.8 289.6 400.4 293.8 400.0C298.1 399.6 302.4 399.3 306.8 399.0" stroke="#ff0000" stroke-width="2.35" fill="none" stroke-linejoin="round"/>
<path clip-path="url(#c0)" d="M243.8 408.8C247.9 408.4 252.1 408.1 256.2 408.1C260.4 408.1 264.6 408.4 268.8 408.8C272.9 409.1 277.1 409.4 281.2 409.4C285.4 409.4 289.6 409.1 293.8 408.8C298.1 408.4 302.4 407.9 306.8 407.5" stroke="#ff0000" stroke-width="2.35" fill="none" stroke-linejoin="round"/>
<path clip-path="url(#c0)" d="M243.8 418.8C247.9 418.6 252.1 418.4 256.2 418.1C260.4 417.8 264.6 417.3 268.8 416.9C272.9 416.4 277.1 416.1 281.2 416.2C285.4 416.4 289.6 417.1 293.8 417.5C298.1 417.9 302.4 418.0 306.8 418.1" stroke="#ff0000" stroke-width="2.35" fill="none" stroke-linejoin="round"/>
<path clip-path="url(#c0)" d="M243.8 423.1C247.9 422.5 252.1 421.9 256.2 421.9C260.4 421.8 264.6 422.3 268.8 423.1C272.9 424.0 277.1 425.1 281.2 426.2C285.4 427.4 289.6 428.4 293.8 428.8C298.1 429.1 302.4 428.6 306.8 428.1" stroke="#ff0000" stroke-width="2.35" fill="none" stroke-linejoin="round"/>
<path clip-path="url(#c0)" d="M243.8 430.2C247.9 430.2 252.1 430.1 256.2 430.6C260.4 431.2 264.6 432.3 268.8 433.1C272.9 434.0 277.1 434.5 281.2 435.0C285.4 435.5 289.6 435.8 293.8 435.6C298.1 435.4 302.4 434.6 306.8 433.8" stroke="#ff0000" stroke-width="2.35" fill="none" stroke-linejoin="round"/>
<path clip-path="url(#c0)" d="M243.8 443.1C247.9 442.9 252.1 442.8 256.2 443.1C260.4 443.5 264.6 444.4 268.8 444.4C270.8 444.4 272.9 444.2 275.0 443.8C279.2 442.9 283.3 441.2 287.5 440.0C291.7 438.8 295.8 438.0 300.0 437.5C302.2 437.2 304.5 437.1 306.8 436.9" stroke="#ff0000" stroke-width="2.35" fill="none" stroke-linejoin="round"/>
<path clip-path="url(#c0)" d="M243.8 453.1C247.9 453.0 252.1 452.8 256.2 451.9C260.4 450.9 264.6 449.2 268.8 447.5C272.9 445.8 277.1 444.1 281.2 443.1C285.4 442.2 289.6 442.0 293.8 441.9C298.1 441.8 302.4 441.8 306.8 441.9" stroke="#ff0000" stroke-width="2.35" fill="none" stroke-linejoin="round"/>
<path clip-path="url(#c0)" d="M243.8 456.2C247.9 456.0 252.1 455.8 256.2 455.0C260.4 454.2 264.6 452.9 268.8 451.9C272.9 450.9 277.1 450.3 281.2 450.0C285.4 449.7 289.6 449.8 293.8 450.0C298.1 450.2 302.4 450.4 306.8 450.6" stroke="#ff0000" stroke-width="2.35" fill="none" stroke-linejoin="round"/>
<path clip-path="url(#c0)" d="M243.8 474.0C247.9 473.7 252.1 473.4 256.2 473.1C260.4 472.9 264.6 472.6 268.8 472.5C272.9 472.4 277.1 472.4 281.2 472.2C285.4 472.1 289.6 471.7 293.8 471.2C298.1 470.7 302.4 470.1 306.8 469.4" stroke="#ff0000" stroke-width="2.35" fill="none" stroke-linejoin="round"/>
<path clip-path="url(#c0)" d="M243.8 478.1C247.9 478.4 252.1 478.6 256.2 478.8C260.4 478.9 264.6 479.0 268.8 479.0C272.9 479.0 277.1 478.8 281.2 478.5C285.4 478.2 289.6 477.7 293.8 477.5C298.1 477.3 302.4 477.4 306.8 477.5" stroke="#ff0000" stroke-width="2.35" fill="none" stroke-linejoin="round"/>
<path clip-path="url(#c0)" d="M208.8 411.2C214.2 410.7 219.6 410.2 225.0 409.8C231.2 409.3 237.5 409.0 243.8 408.8" stroke="#ff0000" stroke-width="2.35" fill="none" stroke-linejoin="round"/>
<path clip-path="url(#c0)" d="M208.8 411.2C212.1 412.8 215.4 414.3 218.8 416.2C222.1 418.2 225.4 420.6 228.8 423.1C231.7 425.3 234.6 427.6 237.5 428.8C239.6 429.6 241.7 429.9 243.8 430.2" stroke="#ff0000" stroke-width="2.35" fill="none" stroke-linejoin="round"/>
<path clip-path="url(#c0)" d="M208.8 413.4C214.2 414.1 219.6 414.8 225.0 415.6C231.2 416.6 237.5 417.7 243.8 418.8" stroke="#ff0000" stroke-width="2.35" fill="none" stroke-linejoin="round"/>
<path clip-path="url(#c0)" d="M208.8 418.4C212.1 418.2 215.4 418.0 218.8 418.1C222.9 418.3 227.1 419.2 231.2 419.4C235.4 419.6 239.6 419.2 243.8 418.8" stroke="#ff0000" stroke-width="2.35" fill="none" stroke-linejoin="round"/>
<path clip-path="url(#c0)" d="M208.8 423.2C212.1 423.2 215.4 423.3 218.8 423.1C222.9 422.9 227.1 422.4 231.2 421.9C233.3 421.6 235.4 421.3 237.5 421.5C239.6 421.7 241.7 422.4 243.8 423.1" stroke="#ff0000" stroke-width="2.35" fill="none" stroke-linejoin="round"/>
<path clip-path="url(#c0)" d="M208.8 439.4C210.0 438.7 211.2 438.1 212.5 437.5C216.7 435.5 220.8 433.7 225.0 431.2C228.3 429.3 231.7 426.9 235.0 424.4C237.1 422.8 239.2 421.2 241.2 420.0C242.1 419.5 242.9 419.1 243.8 418.8" stroke="#ff0000" stroke-width="2.35" fill="none" stroke-linejoin="round"/>
<path clip-path="url(#c0)" d="M208.8 443.1C211.7 441.1 214.6 439.0 217.5 437.5C220.8 435.8 224.2 434.7 227.5 433.8C230.8 432.8 234.2 431.9 237.5 431.2C239.6 430.9 241.7 430.6 243.8 430.2" stroke="#ff0000" stroke-width="2.35" fill="none" stroke-linejoin="round"/>
<path clip-path="url(#c0)" d="M208.8 444.2C214.2 443.6 219.6 443.0 225.0 442.8C231.2 442.5 237.5 442.8 243.8 443.1" stroke="#ff0000" stroke-width="2.35" fill="none" stroke-linejoin="round"/>
<path clip-path="url(#c0)" d="M208.8 443.1C212.1 443.4 215.4 443.8 218.8 445.0C222.1 446.2 225.4 448.4 228.8 450.0C231.7 451.4 234.6 452.3 237.5 452.8C239.6 453.1 241.7 453.1 243.8 453.1" stroke="#ff0000" stroke-width="2.35" fill="none" stroke-linejoin="round"/>
<path clip-path="url(#c0)" d="M208.8 451.9C212.1 451.6 215.4 451.4 218.8 451.9C222.9 452.4 227.1 454.1 231.2 455.0C235.4 455.9 239.6 456.1 243.8 456.2" stroke="#ff0000" stroke-width="2.35" fill="none" stroke-linejoin="round"/>
<path clip-path="url(#c0)" d="M208.8 459.5C212.1 459.3 215.4 459.2 218.8 458.8C222.9 458.2 227.1 457.4 231.2 456.9C235.4 456.4 239.6 456.3 243.8 456.2" stroke="#ff0000" stroke-width="2.35" fill="none" stroke-linejoin="round"/>
<path clip-path="url(#c0)" d="M208.8 459.5C214.2 459.2 219.6 459.0 225.0 457.5C229.2 456.4 233.3 454.5 237.5 453.8C239.6 453.4 241.7 453.2 243.8 453.1" stroke="#ff0000" stroke-width="2.35" fill="none" stroke-linejoin="round"/>
<path clip-path="url(#c0)" d="M208.8 466.2C212.1 466.2 215.4 466.2 218.8 466.9C222.9 467.8 227.1 469.9 231.2 471.2C235.4 472.6 239.6 473.3 243.8 474.0" stroke="#ff0000" stroke-width="2.35" fill="none" stroke-linejoin="round"/>
<path clip-path="url(#c0)" d="M208.8 478.6C214.2 478.5 219.6 478.4 225.0 477.5C229.2 476.8 233.3 475.8 237.5 475.0C239.6 474.6 241.7 474.3 243.8 474.0" stroke="#ff0000" stroke-width="2.35" fill="none" stroke-linejoin="round"/>
<path clip-path="url(#c0)" d="M208.8 480.1C214.2 480.5 219.6 480.9 225.0 480.6C231.2 480.3 237.5 479.2 243.8 478.1" stroke="#ff0000" stroke-width="2.35" fill="none" stroke-linejoin="round"/>
<path clip-path="url(#c0)" d="M208.8 480.1C214.2 480.5 219.6 480.9 225.0 480.6C231.2 480.3 237.5 479.2 243.8 478.1" stroke="#ff0000" stroke-width="2.35" fill="none" stroke-linejoin="round"/>
<path clip-path="url(#c0)" d="M208.8 485.1C214.2 485.2 219.6 485.2 225.0 485.2C231.2 485.3 237.5 485.5 243.8 485.6" stroke="#ff0000" stroke-width="2.35" fill="none" stroke-linejoin="round"/>
<path clip-path="url(#c0)" d="M208.8 486.1C214.2 486.2 219.6 486.3 225.0 486.2C231.2 486.2 237.5 485.9 243.8 485.6" stroke="#ff0000" stroke-width="2.35" fill="none" stroke-linejoin="round"/>
<path clip-path="url(#c0)" d="M243.8 485.6C247.1 486.3 250.4 487.1 253.8 488.1C257.5 489.3 261.2 491.0 265.0 492.5C268.3 493.8 271.7 495.1 275.0 496.2C279.2 497.7 283.3 499.1 287.5 500.0C291.7 500.9 295.8 501.2 300.0 501.2C302.2 501.3 304.5 501.3 306.8 501.2" stroke="#ff0000" stroke-width="2.35" fill="none" stroke-linejoin="round"/>
<path clip-path="url(#c0)" d="M208.8 501.2C214.2 501.4 219.6 501.5 225.0 501.9C231.2 502.3 237.5 503.0 243.8 503.8" stroke="#ff0000" stroke-width="2.35" fill="none" stroke-linejoin="round"/>
<path clip-path="url(#c0)" d="M208.8 506.9C214.2 506.8 219.6 506.7 225.0 506.2C231.2 505.7 237.5 504.7 243.8 503.8" stroke="#ff0000" stroke-width="2.35" fill="none" stroke-linejoin="round"/>
<path clip-path="url(#c0)" d="M243.8 503.8C247.1 503.3 250.4 502.9 253.8 501.9C257.5 500.7 261.2 498.7 265.0 497.5C268.3 496.4 271.7 495.8 275.0 495.0C279.2 493.9 283.3 492.4 287.5 491.2C291.7 490.1 295.8 489.3 300.0 488.8C302.2 488.5 304.5 488.3 306.8 488.1" stroke="#ff0000" stroke-width="2.35" fill="none" stroke-linejoin="round"/>
<path clip-path="url(#c0)" d="M306.8 199.9C311.2 199.4 315.6 198.9 320.0 198.1C324.2 197.4 328.3 196.5 332.5 195.6C336.7 194.8 340.8 193.9 345.0 193.1C349.2 192.3 353.3 191.6 357.5 191.0C361.7 190.4 365.8 190.1 370.0 190.0C373.1 189.9 376.2 190.0 379.4 190.0" stroke="#ff0000" stroke-width="2.35" fill="none" stroke-linejoin="round"/>
<path clip-path="url(#c0)" d="M306.8 199.9C311.2 199.7 315.6 199.4 320.0 199.0C324.2 198.6 328.3 198.0 332.5 197.2C336.7 196.5 340.8 195.5 345.0 195.0C349.2 194.5 353.3 194.4 357.5 194.6C361.7 194.8 365.8 195.4 370.0 195.6C373.1 195.8 376.2 195.8 379.4 195.9" stroke="#ff0000" stroke-width="2.35" fill="none" stroke-linejoin="round"/>
<path clip-path="url(#c0)" d="M306.8 228.9C309.1 228.2 311.4 227.5 313.8 226.9C317.9 225.8 322.1 225.2 326.2 225.0C330.4 224.8 334.6 225.0 338.8 225.4C342.9 225.8 347.1 226.4 351.2 227.2C355.4 228.1 359.6 229.0 363.8 229.8C367.1 230.3 370.4 230.8 373.8 230.9C375.6 230.9 377.5 230.9 379.4 230.9" stroke="#ff0000" stroke-width="2.35" fill="none" stroke-linejoin="round"/>
<path clip-path="url(#c0)" d="M306.8 228.9C309.1 229.7 311.4 230.5 313.8 231.2C317.9 232.6 322.1 233.9 326.2 235.0C330.4 236.1 334.6 236.8 338.8 237.1C342.9 237.4 347.1 237.2 351.2 236.9C355.4 236.5 359.6 236.1 363.8 235.6C367.1 235.2 370.4 234.8 373.8 234.6C375.6 234.5 377.5 234.4 379.4 234.4" stroke="#ff0000" stroke-width="2.35" fill="none" stroke-linejoin="round"/>
<path clip-path="url(#c0)" d="M306.8 244.7C311.2 244.7 315.6 244.8 320.0 244.4C324.2 244.0 328.3 243.3 332.5 242.5C336.7 241.7 340.8 240.8 345.0 240.0C349.2 239.2 353.3 238.3 357.5 237.5C361.7 236.7 365.8 235.8 370.0 235.2C373.1 234.8 376.2 234.6 379.4 234.4" stroke="#ff0000" stroke-width="2.35" fill="none" stroke-linejoin="round"/>
<path clip-path="url(#c0)" d="M306.8 244.7C313.2 244.4 319.8 244.0 326.2 244.8C329.6 245.1 332.9 245.7 336.2 246.9C340.4 248.3 344.6 250.5 348.8 252.5C352.9 254.5 357.1 256.2 361.2 257.5C364.2 258.4 367.1 259.0 370.0 259.4C373.1 259.8 376.2 259.9 379.4 260.0" stroke="#ff0000" stroke-width="2.35" fill="none" stroke-linejoin="round"/>
<path clip-path="url(#c0)" d="M306.8 274.4C311.2 272.6 315.6 270.9 320.0 269.4C324.2 268.0 328.3 266.8 332.5 265.6C336.7 264.5 340.8 263.4 345.0 262.5C349.2 261.6 353.3 261.0 357.5 260.6C361.7 260.2 365.8 260.1 370.0 260.0C373.1 260.0 376.2 260.0 379.4 260.0" stroke="#ff0000" stroke-width="2.35" fill="none" stroke-linejoin="round"/>
<path clip-path="url(#c0)" d="M306.8 274.4C311.2 275.7 315.6 277.1 320.0 278.1C324.2 279.1 328.3 279.9 332.5 280.0C336.7 280.1 340.8 279.6 345.0 279.0C349.2 278.4 353.3 277.5 357.5 276.9C361.7 276.2 365.8 275.7 370.0 275.4C373.1 275.2 376.2 275.1 379.4 275.0" stroke="#ff0000" stroke-width="2.35" fill="none" stroke-linejoin="round"/>
<path clip-path="url(#c0)" d="M306.8 287.3C311.2 286.7 315.6 286.1 320.0 285.0C324.2 283.9 328.3 282.4 332.5 281.2C336.7 280.1 340.8 279.3 345.0 278.5C349.2 277.7 353.3 276.9 357.5 276.2C361.7 275.6 365.8 275.2 370.0 275.0C373.1 274.8 376.2 274.8 379.4 274.8" stroke="#ff0000" stroke-width="2.35" fill="none" stroke-linejoin="round"/>
<path clip-path="url(#c0)" d="M306.8 287.3C311.2 287.0 315.6 286.6 320.0 286.2C324.2 285.9 328.3 285.5 332.5 285.2C338.8 284.9 345.0 284.8 351.2 284.8C357.5 284.7 363.8 284.7 370.0 284.8C373.1 284.8 376.2 284.8 379.4 284.8" stroke="#ff0000" stroke-width="2.35" fill="none" stroke-linejoin="round"/>
<path clip-path="url(#c0)" d="M306.8 301.4C309.1 300.8 311.4 300.2 313.8 299.8C317.9 298.9 322.1 298.6 326.2 298.8C330.4 298.9 334.6 299.5 338.8 300.0C345.0 300.8 351.2 301.4 357.5 301.9C361.7 302.2 365.8 302.4 370.0 302.5C373.1 302.6 376.2 302.5 379.4 302.5" stroke="#ff0000" stroke-width="2.35" fill="none" stroke-linejoin="round"/>
<path clip-path="url(#c0)" d="M306.8 301.4C311.2 303.3 315.6 305.2 320.0 307.5C324.2 309.6 328.3 312.1 332.5 314.4C336.7 316.7 340.8 318.8 345.0 320.6C348.3 322.1 351.7 323.5 355.0 325.0C358.3 326.5 361.7 328.2 365.0 329.4C368.3 330.5 371.7 331.1 375.0 331.2C376.5 331.3 377.9 331.3 379.4 331.2" stroke="#ff0000" stroke-width="2.35" fill="none" stroke-linejoin="round"/>
<path clip-path="url(#c0)" d="M306.8 330.9C311.2 330.4 315.6 329.9 320.0 328.8C324.2 327.6 328.3 325.9 332.5 324.4C336.7 322.9 340.8 321.6 345.0 320.6C349.2 319.6 353.3 318.8 357.5 318.1C361.7 317.4 365.8 316.8 370.0 316.5C373.1 316.3 376.2 316.3 379.4 316.2" stroke="#ff0000" stroke-width="2.35" fill="none" stroke-linejoin="round"/>
<path clip-path="url(#c0)" d="M306.8 330.9C311.2 330.8 315.6 330.6 320.0 330.6C324.2 330.6 328.3 330.7 332.5 331.2C336.7 331.8 340.8 332.7 345.0 333.5C349.2 334.3 353.3 334.9 357.5 335.6C361.7 336.3 365.8 337.1 370.0 337.5C373.1 337.8 376.2 338.0 379.4 338.1" stroke="#ff0000" stroke-width="2.35" fill="none" stroke-linejoin="round"/>
<path clip-path="url(#c0)" d="M306.8 338.8C310.3 337.9 313.9 337.1 317.5 336.9C322.5 336.6 327.5 337.7 332.5 338.8C336.7 339.6 340.8 340.5 345.0 341.2C349.2 342.0 353.3 342.6 357.5 343.1C361.7 343.7 365.8 344.1 370.0 344.4C373.1 344.6 376.2 344.6 379.4 344.6" stroke="#ff0000" stroke-width="2.35" fill="none" stroke-linejoin="round"/>
<path clip-path="url(#c0)" d="M306.8 338.8C311.2 341.0 315.6 343.3 320.0 345.6C324.2 347.8 328.3 349.9 332.5 351.9C336.7 353.8 340.8 355.6 345.0 356.9C349.2 358.1 353.3 358.9 357.5 359.4C361.7 359.9 365.8 360.2 370.0 360.2C373.1 360.3 376.2 360.3 379.4 360.2" stroke="#ff0000" stroke-width="2.35" fill="none" stroke-linejoin="round"/>
<path clip-path="url(#c0)" d="M306.8 366.2C311.2 366.4 315.6 366.5 320.0 366.2C324.2 366.0 328.3 365.5 332.5 364.4C336.7 363.3 340.8 361.6 345.0 359.8C349.2 357.9 353.3 356.0 357.5 354.4C361.7 352.8 365.8 351.6 370.0 351.0C373.1 350.6 376.2 350.5 379.4 350.4" stroke="#ff0000" stroke-width="2.35" fill="none" stroke-linejoin="round"/>
<path clip-path="url(#c0)" d="M306.8 366.2C313.2 366.2 319.8 366.2 326.2 366.9C330.4 367.3 334.6 368.0 338.8 369.0C342.9 370.0 347.1 371.2 351.2 372.5C355.4 373.8 359.6 375.3 363.8 376.2C367.9 377.2 372.1 377.7 376.2 377.8C377.3 377.8 378.3 377.8 379.4 377.8" stroke="#ff0000" stroke-width="2.35" fill="none" stroke-linejoin="round"/>
<path clip-path="url(#c0)" d="M306.8 376.1C310.3 375.3 313.9 374.4 317.5 373.8C321.7 373.0 325.8 372.4 330.0 372.5C334.2 372.6 338.3 373.3 342.5 374.4C346.7 375.4 350.8 376.8 355.0 378.1C359.2 379.5 363.3 380.9 367.5 382.5C371.5 384.0 375.4 385.8 379.4 387.5" stroke="#ff0000" stroke-width="2.35" fill="none" stroke-linejoin="round"/>
<path clip-path="url(#c0)" d="M306.8 376.1C311.2 376.9 315.6 377.7 320.0 378.1C324.2 378.5 328.3 378.6 332.5 378.8C336.7 378.9 340.8 379.1 345.0 379.4C351.2 379.7 357.5 380.1 363.8 381.2C369.0 382.2 374.2 383.6 379.4 385.0" stroke="#ff0000" stroke-width="2.35" fill="none" stroke-linejoin="round"/>
<path clip-path="url(#c0)" d="M306.8 381.5C313.2 381.4 319.8 381.4 326.2 381.2C332.5 381.2 338.8 381.0 345.0 381.0C351.2 381.0 357.5 381.1 363.8 381.2C369.0 381.4 374.2 381.6 379.4 381.9" stroke="#ff0000" stroke-width="2.35" fill="none" stroke-linejoin="round"/>
<path clip-path="url(#c0)" d="M306.8 388.1C311.2 387.5 315.6 386.8 320.0 386.2C324.2 385.7 328.3 385.3 332.5 385.0C336.7 384.7 340.8 384.7 345.0 384.8C349.2 384.8 353.3 385.1 357.5 385.6C361.7 386.1 365.8 386.9 370.0 387.5C373.1 388.0 376.2 388.4 379.4 388.8" stroke="#ff0000" stroke-width="2.35" fill="none" stroke-linejoin="round"/>
<path clip-path="url(#c0)" d="M306.8 388.1C311.2 388.4 315.6 388.6 320.0 388.8C324.2 388.9 328.3 388.9 332.5 388.8C336.7 388.6 340.8 388.4 345.0 388.1C349.2 387.8 353.3 387.5 357.5 387.5C361.7 387.5 365.8 387.8 370.0 388.1C373.1 388.3 376.2 388.5 379.4 388.8" stroke="#ff0000" stroke-width="2.35" fill="none" stroke-linejoin="round"/>
<path clip-path="url(#c0)" d="M306.8 399.0C311.2 398.6 315.6 398.2 320.0 397.5C324.2 396.9 328.3 396.1 332.5 395.0C336.7 393.9 340.8 392.6 345.0 391.9C349.2 391.1 353.3 391.0 357.5 390.6C361.7 390.3 365.8 389.7 370.0 389.4C373.1 389.1 376.2 388.9 379.4 388.8" stroke="#ff0000" stroke-width="2.35" fill="none" stroke-linejoin="round"/>
<path clip-path="url(#c0)" d="M306.8 399.0C311.2 399.3 315.6 399.5 320.0 400.0C324.2 400.4 328.3 401.1 332.5 401.2C336.7 401.4 340.8 401.2 345.0 400.6C349.2 400.1 353.3 399.2 357.5 398.8C361.7 398.3 365.8 398.2 370.0 398.1C373.1 398.1 376.2 398.1 379.4 398.1" stroke="#ff0000" stroke-width="2.35" fill="none" stroke-linejoin="round"/>
<path clip-path="url(#c0)" d="M306.8 407.5C311.2 404.8 315.6 402.1 320.0 400.0C324.2 398.0 328.3 396.6 332.5 395.0C335.8 393.8 339.2 392.4 342.5 391.2C345.4 390.2 348.3 389.3 351.2 388.8C355.4 388.0 359.6 388.1 363.8 388.1C369.0 388.2 374.2 388.1 379.4 388.1" stroke="#ff0000" stroke-width="2.35" fill="none" stroke-linejoin="round"/>
<path clip-path="url(#c0)" d="M306.8 407.5C309.5 406.4 312.2 405.3 315.0 404.4C318.8 403.1 322.5 402.1 326.2 401.2C330.4 400.3 334.6 399.6 338.8 398.8C342.9 397.9 347.1 397.0 351.2 395.6C354.2 394.7 357.1 393.6 360.0 392.8C363.3 391.8 366.7 391.4 370.0 391.0C373.1 390.7 376.2 390.5 379.4 390.2" stroke="#ff0000" stroke-width="2.35" fill="none" stroke-linejoin="round"/>
<path clip-path="url(#c0)" d="M306.8 407.5C309.1 408.4 311.4 409.3 313.8 410.0C317.9 411.2 322.1 411.5 326.2 411.2C330.4 411.0 334.6 410.3 338.8 409.4C342.9 408.5 347.1 407.5 351.2 406.9C355.4 406.3 359.6 406.1 363.8 406.0C369.0 405.9 374.2 405.9 379.4 406.0" stroke="#ff0000" stroke-width="2.35" fill="none" stroke-linejoin="round"/>
<path clip-path="url(#c0)" d="M306.8 418.1C311.2 416.5 315.6 414.8 320.0 413.8C324.2 412.7 328.3 412.2 332.5 411.2C336.7 410.3 340.8 408.9 345.0 406.9C348.3 405.2 351.7 403.1 355.0 401.2C358.3 399.4 361.7 397.8 365.0 396.2C366.7 395.5 368.3 394.7 370.0 393.8C371.7 392.8 373.3 391.8 375.0 391.0C376.5 390.3 377.9 389.8 379.4 389.4" stroke="#ff0000" stroke-width="2.35" fill="none" stroke-linejoin="round"/>
<path clip-path="url(#c0)" d="M306.8 418.1C311.2 419.1 315.6 420.0 320.0 420.0C324.2 420.0 328.3 419.1 332.5 418.1C336.7 417.2 340.8 416.3 345.0 415.6C349.2 415.0 353.3 414.7 357.5 414.4C361.7 414.1 365.8 413.8 370.0 413.8C373.1 413.7 376.2 413.7 379.4 413.8" stroke="#ff0000" stroke-width="2.35" fill="none" stroke-linejoin="round"/>
<path clip-path="url(#c0)" d="M306.8 428.1C311.2 427.1 315.6 426.1 320.0 424.4C323.3 423.1 326.7 421.5 330.0 420.0C332.9 418.7 335.8 417.5 338.8 416.9C342.9 416.0 347.1 416.1 351.2 416.2C355.4 416.4 359.6 416.4 363.8 416.5C369.0 416.6 374.2 416.7 379.4 416.9" stroke="#ff0000" stroke-width="2.35" fill="none" stroke-linejoin="round"/>
<path clip-path="url(#c0)" d="M306.8 428.1C311.2 428.4 315.6 428.7 320.0 429.4C324.2 430.0 328.3 430.9 332.5 430.6C336.7 430.4 340.8 429.0 345.0 428.8C349.2 428.5 353.3 429.3 357.5 430.0C361.7 430.7 365.8 431.5 370.0 431.9C373.1 432.2 376.2 432.3 379.4 432.5" stroke="#ff0000" stroke-width="2.35" fill="none" stroke-linejoin="round"/>
<path clip-path="url(#c0)" d="M306.8 433.8C311.2 433.0 315.6 432.3 320.0 431.2C324.2 430.3 328.3 429.0 332.5 427.5C336.7 426.0 340.8 424.3 345.0 423.1C349.2 421.9 353.3 421.2 357.5 420.6C361.7 420.0 365.8 419.5 370.0 419.4C373.1 419.3 376.2 419.3 379.4 419.4" stroke="#ff0000" stroke-width="2.35" fill="none" stroke-linejoin="round"/>
<path clip-path="url(#c0)" d="M306.8 436.9C311.2 436.0 315.6 435.1 320.0 435.0C324.2 434.9 328.3 435.5 332.5 436.9C336.7 438.2 340.8 440.3 345.0 441.9C349.2 443.4 353.3 444.4 357.5 445.0C361.7 445.6 365.8 445.9 370.0 446.0C373.1 446.1 376.2 446.0 379.4 446.0" stroke="#ff0000" stroke-width="2.35" fill="none" stroke-linejoin="round"/>
<path clip-path="url(#c0)" d="M306.8 441.9C311.2 440.8 315.6 439.8 320.0 438.1C324.2 436.6 328.3 434.5 332.5 432.5C336.7 430.5 340.8 428.7 345.0 426.9C348.3 425.4 351.7 424.0 355.0 423.1C358.3 422.3 361.7 422.1 365.0 421.9C369.8 421.6 374.6 421.4 379.4 421.2" stroke="#ff0000" stroke-width="2.35" fill="none" stroke-linejoin="round"/>
<path clip-path="url(#c0)" d="M306.8 441.9C311.2 442.6 315.6 443.2 320.0 443.8C324.2 444.2 328.3 444.5 332.5 445.0C336.7 445.5 340.8 446.0 345.0 446.9C349.2 447.7 353.3 448.8 357.5 449.4C361.7 449.9 365.8 450.0 370.0 450.0C373.1 450.0 376.2 450.0 379.4 450.0" stroke="#ff0000" stroke-width="2.35" fill="none" stroke-linejoin="round"/>
<path clip-path="url(#c0)" d="M306.8 450.6C311.2 449.9 315.6 449.1 320.0 448.8C324.2 448.4 328.3 448.3 332.5 448.8C336.7 449.2 340.8 450.0 345.0 450.6C349.2 451.2 353.3 451.6 357.5 451.9C361.7 452.1 365.8 452.3 370.0 452.5C373.1 452.7 376.2 452.9 379.4 453.1" stroke="#ff0000" stroke-width="2.35" fill="none" stroke-linejoin="round"/>
<path clip-path="url(#c0)" d="M306.8 450.6C309.1 451.6 311.4 452.5 313.8 453.8C317.1 455.5 320.4 457.8 323.8 460.0C326.7 462.0 329.6 463.9 332.5 465.6C335.8 467.6 339.2 469.4 342.5 471.2C345.4 472.9 348.3 474.6 351.2 476.2C354.6 478.1 357.9 479.9 361.2 481.2C364.2 482.4 367.1 483.2 370.0 483.8C373.1 484.3 376.2 484.7 379.4 485.0" stroke="#ff0000" stroke-width="2.35" fill="none" stroke-linejoin="round"/>
<path clip-path="url(#c0)" d="M306.8 469.4C311.2 468.3 315.6 467.3 320.0 466.2C324.2 465.3 328.3 464.3 332.5 463.1C336.7 461.9 340.8 460.6 345.0 458.8C348.3 457.3 351.7 455.6 355.0 454.4C358.3 453.1 361.7 452.4 365.0 451.9C369.8 451.1 374.6 450.9 379.4 450.6" stroke="#ff0000" stroke-width="2.35" fill="none" stroke-linejoin="round"/>
<path clip-path="url(#c0)" d="M306.8 477.5C311.2 477.3 315.6 477.1 320.0 476.9C324.2 476.7 328.3 476.6 332.5 476.2C336.7 475.9 340.8 475.5 345.0 475.0C349.2 474.5 353.3 474.1 357.5 473.8C361.7 473.4 365.8 473.2 370.0 473.1C373.1 473.1 376.2 473.1 379.4 473.1" stroke="#ff0000" stroke-width="2.35" fill="none" stroke-linejoin="round"/>
<path clip-path="url(#c0)" d="M332.5 463.1C338.3 461.3 344.2 459.4 350.0 460.0C353.3 460.3 356.7 461.5 360.0 463.1C363.3 464.8 366.7 466.9 370.0 468.1C373.1 469.2 376.2 469.5 379.4 469.8" stroke="#ff0000" stroke-width="2.35" fill="none" stroke-linejoin="round"/>
<path clip-path="url(#c0)" d="M306.8 477.5C311.2 478.1 315.6 478.6 320.0 478.8C324.2 478.8 328.3 478.5 332.5 478.1C336.7 477.7 340.8 477.2 345.0 476.9C349.2 476.5 353.3 476.3 357.5 476.2C364.8 476.1 372.1 476.2 379.4 476.2" stroke="#ff0000" stroke-width="2.35" fill="none" stroke-linejoin="round"/>
<path clip-path="url(#c0)" d="M312.5 485.0C315.0 483.8 317.5 482.7 320.0 481.9C322.1 481.2 324.2 480.8 326.2 481.2C328.3 481.7 330.4 482.9 332.5 483.8C333.8 484.3 335.0 484.6 336.2 485.0" stroke="#ff0000" stroke-width="2.35" fill="none" stroke-linejoin="round"/>
<path clip-path="url(#c0)" d="M345.0 476.2C349.2 477.8 353.3 479.3 357.5 481.2C360.0 482.4 362.5 483.7 365.0 485.0" stroke="#ff0000" stroke-width="2.35" fill="none" stroke-linejoin="round"/>
<path clip-path="url(#c0)" d="M306.8 469.4C311.2 470.5 315.6 471.5 320.0 472.5C324.2 473.4 328.3 474.2 332.5 475.0C336.7 475.8 340.8 476.4 345.0 476.9C349.2 477.3 353.3 477.5 357.5 477.5C361.7 477.5 365.8 477.2 370.0 476.9C373.0 476.7 376.0 476.5 379.0 476.2" stroke="#ff0000" stroke-width="2.35" fill="none" stroke-linejoin="round"/>
<path clip-path="url(#c0)" d="M306.8 488.1C309.1 486.8 311.4 485.4 313.8 484.4C316.7 483.1 319.6 482.2 322.5 481.9C325.0 481.6 327.5 481.7 330.0 482.5C332.1 483.2 334.2 484.4 336.2 486.2C339.2 488.8 342.1 492.4 345.0 496.2C348.3 500.6 351.7 505.1 355.0 510.0C358.3 514.9 361.7 520.1 365.0 525.0C367.5 528.7 370.0 532.3 372.5 535.6C374.7 538.5 376.8 541.3 379.0 544.0" stroke="#ff0000" stroke-width="2.35" fill="none" stroke-linejoin="round"/>
<path clip-path="url(#c0)" d="M306.8 488.1C309.1 489.4 311.4 490.7 313.8 491.9C317.1 493.5 320.4 495.0 323.8 496.9C326.7 498.5 329.6 500.5 332.5 502.5C336.7 505.3 340.8 508.0 345.0 511.2C349.2 514.5 353.3 518.4 357.5 522.5C360.8 525.8 364.2 529.1 367.5 532.5C371.3 536.4 375.2 540.2 379.0 544.0" stroke="#ff0000" stroke-width="2.35" fill="none" stroke-linejoin="round"/>
<path clip-path="url(#c0)" d="M306.8 501.2C311.2 500.2 315.6 499.1 320.0 498.1C324.2 497.2 328.3 496.3 332.5 495.6C336.7 495.0 340.8 494.6 345.0 493.8C349.2 492.9 353.3 491.7 357.5 490.0C360.8 488.6 364.2 486.9 367.5 485.6C370.4 484.5 373.3 483.9 376.2 483.8C377.2 483.7 378.1 483.7 379.0 483.8" stroke="#ff0000" stroke-width="2.35" fill="none" stroke-linejoin="round"/>
<path clip-path="url(#c0)" d="M306.8 501.2C309.1 501.8 311.4 502.4 313.8 503.1C317.9 504.5 322.1 506.4 326.2 508.8C330.4 511.1 334.6 514.0 338.8 516.9C342.9 519.7 347.1 522.5 351.2 525.6C355.4 528.8 359.6 532.3 363.8 535.0C366.7 536.9 369.6 538.3 372.5 540.0C374.7 541.2 376.8 542.6 379.0 544.0" stroke="#ff0000" stroke-width="2.35" fill="none" stroke-linejoin="round"/>
<path clip-path="url(#c0)" d="M379.0 182.5C386.0 182.4 393.0 182.3 400.0 182.1C408.3 181.9 416.7 181.7 425.0 181.5C433.0 181.3 441.0 181.3 449.0 181.2" stroke="#ff0000" stroke-width="2.35" fill="none" stroke-linejoin="round"/>
<path clip-path="url(#c0)" d="M449.0 181.2C451.4 181.3 453.8 181.4 456.2 181.9C459.2 182.5 462.1 183.7 465.0 185.0C468.3 186.4 471.7 187.9 475.0 190.0C478.3 192.1 481.7 194.9 485.0 197.5C487.5 199.4 490.0 201.3 492.5 203.1" stroke="#ff0000" stroke-width="2.35" fill="none" stroke-linejoin="round"/>
<path clip-path="url(#c0)" d="M379.0 195.9C382.7 195.6 386.3 195.4 390.0 195.0C395.4 194.4 400.8 193.3 406.2 192.5C412.5 191.5 418.8 190.8 425.0 190.2C429.2 189.9 433.3 189.6 437.5 189.4C441.3 189.2 445.2 189.1 449.0 189.0" stroke="#ff0000" stroke-width="2.35" fill="none" stroke-linejoin="round"/>
<path clip-path="url(#c0)" d="M449.0 189.0C453.5 189.2 458.0 189.5 462.5 189.8C466.7 190.0 470.8 190.3 475.0 190.6C480.8 191.1 486.7 191.7 492.5 192.2" stroke="#ff0000" stroke-width="2.35" fill="none" stroke-linejoin="round"/>
<path clip-path="url(#c0)" d="M379.0 235.0C390.2 235.1 401.3 235.2 412.5 235.2C424.7 235.3 436.8 235.1 449.0 235.0" stroke="#ff0000" stroke-width="2.35" fill="none" stroke-linejoin="round"/>
<path clip-path="url(#c0)" d="M379.0 235.5C390.2 235.6 401.3 235.6 412.5 235.6C424.7 235.6 436.8 235.5 449.0 235.3" stroke="#ff0000" stroke-width="2.35" fill="none" stroke-linejoin="round"/>
<path clip-path="url(#c0)" d="M449.0 235.0C452.7 233.9 456.3 232.8 460.0 231.2C464.2 229.5 468.3 227.2 472.5 225.0C475.8 223.3 479.2 221.6 482.5 220.0C485.8 218.4 489.2 216.7 492.5 215.0" stroke="#ff0000" stroke-width="2.35" fill="none" stroke-linejoin="round"/>
<path clip-path="url(#c0)" d="M449.0 235.0C453.5 234.9 458.0 234.9 462.5 235.0C466.7 235.1 470.8 235.4 475.0 235.6C480.8 236.0 486.7 236.4 492.5 236.9" stroke="#ff0000" stroke-width="2.35" fill="none" stroke-linejoin="round"/>
<path clip-path="url(#c0)" d="M449.0 235.3C452.7 236.4 456.3 237.4 460.0 238.8C463.3 240.0 466.7 241.4 470.0 242.5C473.8 243.7 477.5 244.4 481.2 244.8C485.0 245.1 488.8 245.2 492.5 245.2" stroke="#ff0000" stroke-width="2.35" fill="none" stroke-linejoin="round"/>
<path clip-path="url(#c0)" d="M379.0 260.6C383.9 260.8 388.8 261.0 393.8 261.9C397.9 262.6 402.1 263.9 406.2 265.0C410.4 266.1 414.6 267.1 418.8 268.1C422.9 269.2 427.1 270.4 431.2 271.2C434.6 272.0 437.9 272.5 441.2 272.8C443.8 273.0 446.4 273.0 449.0 273.1" stroke="#ff0000" stroke-width="2.35" fill="none" stroke-linejoin="round"/>
<path clip-path="url(#c0)" d="M449.0 273.1C451.4 273.0 453.8 272.8 456.2 272.5C460.4 272.0 464.6 271.2 468.8 270.0C472.9 268.8 477.1 267.3 481.2 265.6C485.0 264.1 488.8 262.4 492.5 260.6" stroke="#ff0000" stroke-width="2.35" fill="none" stroke-linejoin="round"/>
<path clip-path="url(#c0)" d="M449.0 273.1C453.5 273.2 458.0 273.4 462.5 273.5C466.7 273.6 470.8 273.8 475.0 274.0C479.2 274.2 483.3 274.5 487.5 275.0C489.2 275.2 490.8 275.4 492.5 275.6" stroke="#ff0000" stroke-width="2.35" fill="none" stroke-linejoin="round"/>
<path clip-path="url(#c0)" d="M379.0 276.9C383.9 277.3 388.8 277.6 393.8 278.1C400.0 278.7 406.2 279.5 412.5 280.0C416.7 280.3 420.8 280.5 425.0 280.4C429.2 280.2 433.3 279.7 437.5 279.4C441.3 279.1 445.2 279.0 449.0 278.9" stroke="#ff0000" stroke-width="2.35" fill="none" stroke-linejoin="round"/>
<path clip-path="url(#c0)" d="M379.0 285.0C383.9 284.9 388.8 284.8 393.8 284.4C400.0 283.8 406.2 282.8 412.5 281.9C416.7 281.3 420.8 280.8 425.0 280.2C429.2 279.7 433.3 279.2 437.5 279.0C441.3 278.8 445.2 278.8 449.0 278.9" stroke="#ff0000" stroke-width="2.35" fill="none" stroke-linejoin="round"/>
<path clip-path="url(#c0)" d="M449.0 278.9C453.5 278.9 458.0 278.9 462.5 278.8C466.7 278.6 470.8 278.4 475.0 278.1C480.8 277.8 486.7 277.3 492.5 276.9" stroke="#ff0000" stroke-width="2.35" fill="none" stroke-linejoin="round"/>
<path clip-path="url(#c0)" d="M449.0 278.9C453.5 279.1 458.0 279.4 462.5 279.8C466.7 280.1 470.8 280.5 475.0 281.2C478.3 281.9 481.7 282.7 485.0 283.8C487.5 284.5 490.0 285.4 492.5 286.2" stroke="#ff0000" stroke-width="2.35" fill="none" stroke-linejoin="round"/>
<path clip-path="url(#c0)" d="M379.0 316.5C383.9 316.5 388.8 316.6 393.8 316.9C400.0 317.2 406.2 318.0 412.5 318.8C418.8 319.5 425.0 320.2 431.2 320.6C437.2 321.1 443.1 321.3 449.0 321.5" stroke="#ff0000" stroke-width="2.35" fill="none" stroke-linejoin="round"/>
<path clip-path="url(#c0)" d="M449.0 321.5C453.5 322.0 458.0 322.5 462.5 323.1C466.7 323.7 470.8 324.2 475.0 325.0C479.2 325.8 483.3 326.7 487.5 328.1C489.2 328.7 490.8 329.3 492.5 330.0" stroke="#ff0000" stroke-width="2.35" fill="none" stroke-linejoin="round"/>
<path clip-path="url(#c0)" d="M379.0 331.2C383.9 331.1 388.8 331.0 393.8 330.6C400.0 330.1 406.2 329.2 412.5 328.5C418.8 327.8 425.0 327.3 431.2 326.9C437.2 326.4 443.1 326.0 449.0 325.6" stroke="#ff0000" stroke-width="2.35" fill="none" stroke-linejoin="round"/>
<path clip-path="url(#c0)" d="M449.0 325.6C452.7 325.3 456.3 325.0 460.0 324.4C463.3 323.8 466.7 323.1 470.0 321.9C473.8 320.5 477.5 318.5 481.2 316.2C485.0 314.0 488.8 311.4 492.5 308.8" stroke="#ff0000" stroke-width="2.35" fill="none" stroke-linejoin="round"/>
<path clip-path="url(#c0)" d="M449.0 325.6C453.5 325.5 458.0 325.4 462.5 325.0C466.7 324.6 470.8 324.0 475.0 322.5C478.3 321.3 481.7 319.4 485.0 317.5C487.5 316.1 490.0 314.6 492.5 313.1" stroke="#ff0000" stroke-width="2.35" fill="none" stroke-linejoin="round"/>
<path clip-path="url(#c0)" d="M379.0 340.0C386.0 340.0 393.0 340.0 400.0 339.8C408.3 339.5 416.7 339.0 425.0 338.8C433.0 338.5 441.0 338.5 449.0 338.4" stroke="#ff0000" stroke-width="2.35" fill="none" stroke-linejoin="round"/>
<path clip-path="url(#c0)" d="M379.0 344.6C386.0 344.4 393.0 344.3 400.0 343.8C408.3 343.2 416.7 342.1 425.0 341.2C429.2 340.8 433.3 340.5 437.5 340.0C441.3 339.6 445.2 339.1 449.0 338.6" stroke="#ff0000" stroke-width="2.35" fill="none" stroke-linejoin="round"/>
<path clip-path="url(#c0)" d="M449.0 338.6C453.5 338.4 458.0 338.1 462.5 337.5C466.7 336.9 470.8 336.0 475.0 335.0C479.2 334.0 483.3 332.9 487.5 331.9C489.2 331.5 490.8 331.0 492.5 330.6" stroke="#ff0000" stroke-width="2.35" fill="none" stroke-linejoin="round"/>
<path clip-path="url(#c0)" d="M449.0 338.4C453.5 338.6 458.0 338.7 462.5 339.4C466.7 340.0 470.8 341.1 475.0 341.9C479.2 342.7 483.3 343.3 487.5 343.1C489.2 343.1 490.8 342.9 492.5 342.8" stroke="#ff0000" stroke-width="2.35" fill="none" stroke-linejoin="round"/>
<path clip-path="url(#c0)" d="M379.0 350.4C381.8 350.5 384.7 350.7 387.5 351.2C391.7 352.1 395.8 353.8 400.0 355.6C404.2 357.4 408.3 359.3 412.5 361.2C416.7 363.2 420.8 365.4 425.0 366.9C428.3 368.1 431.7 368.9 435.0 369.4C439.7 370.0 444.3 370.0 449.0 370.0" stroke="#ff0000" stroke-width="2.35" fill="none" stroke-linejoin="round"/>
<path clip-path="url(#c0)" d="M449.0 370.0C451.4 369.6 453.8 369.1 456.2 368.1C459.2 366.9 462.1 364.8 465.0 362.5C468.3 359.8 471.7 356.9 475.0 353.8C478.3 350.6 481.7 347.4 485.0 345.0C487.5 343.2 490.0 341.9 492.5 340.6" stroke="#ff0000" stroke-width="2.35" fill="none" stroke-linejoin="round"/>
<path clip-path="url(#c0)" d="M379.0 377.8C383.9 377.4 388.8 377.0 393.8 376.2C400.0 375.3 406.2 373.9 412.5 372.5C416.7 371.6 420.8 370.7 425.0 370.0C428.3 369.5 431.7 369.1 435.0 369.0C439.7 368.9 444.3 369.5 449.0 370.0" stroke="#ff0000" stroke-width="2.35" fill="none" stroke-linejoin="round"/>
<path clip-path="url(#c0)" d="M449.0 370.0C452.7 370.8 456.3 371.5 460.0 372.5C463.3 373.4 466.7 374.4 470.0 375.0C473.8 375.7 477.5 375.7 481.2 375.6C485.0 375.5 488.8 375.3 492.5 375.0" stroke="#ff0000" stroke-width="2.35" fill="none" stroke-linejoin="round"/>
<path clip-path="url(#c0)" d="M379.0 381.2C386.0 380.8 393.0 380.4 400.0 380.0C408.3 379.5 416.7 378.9 425.0 378.5C433.0 378.1 441.0 377.8 449.0 377.5" stroke="#ff0000" stroke-width="2.35" fill="none" stroke-linejoin="round"/>
<path clip-path="url(#c0)" d="M449.0 377.5C451.4 376.8 453.8 376.2 456.2 375.0C459.2 373.6 462.1 371.3 465.0 369.4C468.3 367.2 471.7 365.4 475.0 363.8C478.3 362.1 481.7 360.7 485.0 360.0C487.5 359.5 490.0 359.4 492.5 359.4" stroke="#ff0000" stroke-width="2.35" fill="none" stroke-linejoin="round"/>
<path clip-path="url(#c0)" d="M379.0 381.9C386.0 381.7 393.0 381.6 400.0 381.5C408.3 381.4 416.7 381.3 425.0 381.2C433.0 381.2 441.0 381.1 449.0 381.0" stroke="#ff0000" stroke-width="2.35" fill="none" stroke-linejoin="round"/>
<path clip-path="url(#c0)" d="M449.0 381.0C451.4 381.9 453.8 382.8 456.2 383.8C459.2 384.9 462.1 386.1 465.0 387.5C468.3 389.1 471.7 390.9 475.0 392.5C478.3 394.1 481.7 395.5 485.0 397.5C487.5 399.0 490.0 400.7 492.5 402.5" stroke="#ff0000" stroke-width="2.35" fill="none" stroke-linejoin="round"/>
<path clip-path="url(#c0)" d="M379.0 388.1C383.9 386.5 388.8 384.8 393.8 383.8C397.9 382.9 402.1 382.4 406.2 382.1C412.5 381.6 418.8 381.4 425.0 381.2C433.0 381.1 441.0 381.1 449.0 381.2" stroke="#ff0000" stroke-width="2.35" fill="none" stroke-linejoin="round"/>
<path clip-path="url(#c0)" d="M379.0 388.1C386.0 388.1 393.0 388.1 400.0 388.1C408.3 388.2 416.7 388.4 425.0 388.5C433.0 388.6 441.0 388.7 449.0 388.8" stroke="#ff0000" stroke-width="2.35" fill="none" stroke-linejoin="round"/>
<path clip-path="url(#c0)" d="M449.0 388.8C457.7 388.7 466.3 388.6 475.0 388.8C480.8 388.9 486.7 389.1 492.5 389.4" stroke="#ff0000" stroke-width="2.35" fill="none" stroke-linejoin="round"/>
<path clip-path="url(#c0)" d="M379.0 388.8C383.9 389.9 388.8 391.1 393.8 392.5C397.9 393.7 402.1 394.9 406.2 396.2C410.4 397.6 414.6 398.9 418.8 400.0C422.9 401.1 427.1 401.9 431.2 402.5C437.2 403.3 443.1 403.5 449.0 403.8" stroke="#ff0000" stroke-width="2.35" fill="none" stroke-linejoin="round"/>
<path clip-path="url(#c0)" d="M449.0 403.8C453.5 403.7 458.0 403.7 462.5 403.1C466.7 402.6 470.8 401.5 475.0 400.0C478.3 398.8 481.7 397.5 485.0 396.2C487.5 395.3 490.0 394.5 492.5 393.8" stroke="#ff0000" stroke-width="2.35" fill="none" stroke-linejoin="round"/>
<path clip-path="url(#c0)" d="M379.0 406.0C390.2 406.0 401.3 406.0 412.5 406.0C424.7 406.0 436.8 406.1 449.0 406.2" stroke="#ff0000" stroke-width="2.35" fill="none" stroke-linejoin="round"/>
<path clip-path="url(#c0)" d="M449.0 406.2 L492.5 407.5" stroke="#ff0000" stroke-width="2.35" fill="none" stroke-linejoin="round"/>
<path clip-path="url(#c0)" d="M449.0 370.0C453.5 371.1 458.0 372.1 462.5 373.8C466.7 375.2 470.8 377.2 475.0 378.8C479.2 380.3 483.3 381.4 487.5 382.5C489.2 382.9 490.8 383.3 492.5 383.8" stroke="#ff0000" stroke-width="2.35" fill="none" stroke-linejoin="round"/>
<path clip-path="url(#c0)" d="M449.0 370.0C453.5 368.7 458.0 367.4 462.5 366.9C466.7 366.4 470.8 366.7 475.0 366.9C480.8 367.2 486.7 367.3 492.5 367.5" stroke="#ff0000" stroke-width="2.35" fill="none" stroke-linejoin="round"/>
<path clip-path="url(#c0)" d="M379.0 396.2C381.8 396.3 384.7 396.3 387.5 396.5C393.8 396.9 400.0 398.1 406.2 400.0C410.4 401.3 414.6 402.8 418.8 404.4C422.9 405.9 427.1 407.5 431.2 408.8C435.4 410.0 439.6 410.8 443.8 411.2C445.5 411.4 447.2 411.5 449.0 411.6" stroke="#ff0000" stroke-width="2.35" fill="none" stroke-linejoin="round"/>
<path clip-path="url(#c0)" d="M449.0 411.6C451.4 411.6 453.8 411.6 456.2 411.9C460.4 412.4 464.6 413.9 468.8 415.6C472.9 417.4 477.1 419.3 481.2 421.2C485.0 423.0 488.8 424.6 492.5 426.2" stroke="#ff0000" stroke-width="2.35" fill="none" stroke-linejoin="round"/>
<path clip-path="url(#c0)" d="M379.0 413.8C381.8 413.6 384.7 413.5 387.5 413.8C391.7 414.1 395.8 415.3 400.0 416.9C404.2 418.4 408.3 420.3 412.5 422.5C416.7 424.7 420.8 427.3 425.0 430.0C428.3 432.2 431.7 434.4 435.0 436.2C438.3 438.1 441.7 439.5 445.0 440.0C446.3 440.2 447.7 440.2 449.0 440.2" stroke="#ff0000" stroke-width="2.35" fill="none" stroke-linejoin="round"/>
<path clip-path="url(#c0)" d="M449.0 440.2C451.4 440.2 453.8 440.2 456.2 440.0C460.4 439.7 464.6 438.8 468.8 437.5C472.9 436.2 477.1 434.5 481.2 433.1C485.0 431.9 488.8 430.9 492.5 430.0" stroke="#ff0000" stroke-width="2.35" fill="none" stroke-linejoin="round"/>
<path clip-path="url(#c0)" d="M379.0 419.4C381.8 419.1 384.7 418.9 387.5 418.8C391.7 418.6 395.8 418.6 400.0 418.1C404.2 417.7 408.3 416.7 412.5 415.6C416.7 414.6 420.8 413.5 425.0 412.5C428.3 411.7 431.7 410.9 435.0 410.6C439.7 410.2 444.3 410.7 449.0 411.2" stroke="#ff0000" stroke-width="2.35" fill="none" stroke-linejoin="round"/>
<path clip-path="url(#c0)" d="M379.0 421.9C381.8 421.7 384.7 421.5 387.5 421.2C391.7 420.8 395.8 420.2 400.0 419.4C404.2 418.5 408.3 417.4 412.5 416.2" stroke="#ff0000" stroke-width="2.35" fill="none" stroke-linejoin="round"/>
<path clip-path="url(#c0)" d="M449.0 411.2C453.5 411.5 458.0 411.7 462.5 412.5C466.7 413.2 470.8 414.4 475.0 416.2C478.3 417.8 481.7 419.7 485.0 421.9C487.5 423.5 490.0 425.2 492.5 426.9" stroke="#ff0000" stroke-width="2.35" fill="none" stroke-linejoin="round"/>
<path clip-path="url(#c0)" d="M379.0 446.0C381.8 445.8 384.7 445.5 387.5 445.0C391.7 444.2 395.8 442.8 400.0 441.2C404.2 439.7 408.3 437.9 412.5 436.2C416.7 434.6 420.8 432.9 425.0 431.2C428.3 429.9 431.7 428.5 435.0 427.5C438.3 426.5 441.7 425.9 445.0 425.6C446.3 425.5 447.7 425.4 449.0 425.4" stroke="#ff0000" stroke-width="2.35" fill="none" stroke-linejoin="round"/>
<path clip-path="url(#c0)" d="M449.0 425.4C451.4 425.3 453.8 425.2 456.2 425.0C460.4 424.7 464.6 424.1 468.8 423.1C472.9 422.1 477.1 420.6 481.2 419.4C485.0 418.2 488.8 417.2 492.5 416.2" stroke="#ff0000" stroke-width="2.35" fill="none" stroke-linejoin="round"/>
<path clip-path="url(#c0)" d="M379.0 450.0C383.9 449.1 388.8 448.3 393.8 447.5C397.9 446.8 402.1 446.2 406.2 445.0C410.4 443.8 414.6 442.1 418.8 440.0C422.9 437.9 427.1 435.4 431.2 433.8C434.2 432.6 437.1 431.8 440.0 431.2C443.0 430.7 446.0 430.4 449.0 430.1" stroke="#ff0000" stroke-width="2.35" fill="none" stroke-linejoin="round"/>
<path clip-path="url(#c0)" d="M449.0 430.1C453.5 429.8 458.0 429.4 462.5 428.8C466.7 428.1 470.8 427.2 475.0 426.9C478.3 426.6 481.7 426.6 485.0 426.2C487.5 426.0 490.0 425.5 492.5 425.0" stroke="#ff0000" stroke-width="2.35" fill="none" stroke-linejoin="round"/>
<path clip-path="url(#c0)" d="M379.0 450.0C386.0 449.7 393.0 449.3 400.0 449.4C408.3 449.4 416.7 450.1 425.0 450.0C429.2 450.0 433.3 449.7 437.5 449.4C441.3 449.0 445.2 448.6 449.0 448.1" stroke="#ff0000" stroke-width="2.35" fill="none" stroke-linejoin="round"/>
<path clip-path="url(#c0)" d="M449.0 448.1C452.7 447.2 456.3 446.2 460.0 445.0C463.3 443.9 466.7 442.7 470.0 440.0C472.5 438.0 475.0 435.2 477.5 432.5C479.2 430.7 480.8 428.9 482.5 427.5C485.8 424.8 489.2 424.0 492.5 423.1" stroke="#ff0000" stroke-width="2.35" fill="none" stroke-linejoin="round"/>
<path clip-path="url(#c0)" d="M379.0 450.6C390.2 450.5 401.3 450.4 412.5 450.2C424.7 450.1 436.8 450.1 449.0 450.0" stroke="#ff0000" stroke-width="2.35" fill="none" stroke-linejoin="round"/>
<path clip-path="url(#c0)" d="M449.0 450.0C451.4 450.6 453.8 451.2 456.2 451.9C459.2 452.7 462.1 453.6 465.0 453.1C466.7 452.8 468.3 452.0 470.0 451.2C472.5 450.1 475.0 448.8 477.5 447.5C480.0 446.2 482.5 444.8 485.0 443.8C487.5 442.7 490.0 442.0 492.5 441.2" stroke="#ff0000" stroke-width="2.35" fill="none" stroke-linejoin="round"/>
<path clip-path="url(#c0)" d="M449.0 448.1C451.4 448.6 453.8 449.1 456.2 449.4C459.2 449.7 462.1 449.6 465.0 450.0C468.3 450.4 471.7 451.4 475.0 451.9C478.3 452.4 481.7 452.4 485.0 451.9C487.5 451.5 490.0 450.7 492.5 450.0" stroke="#ff0000" stroke-width="2.35" fill="none" stroke-linejoin="round"/>
<path clip-path="url(#c0)" d="M449.0 464.5C453.5 464.4 458.0 464.3 462.5 463.1C466.7 462.0 470.8 460.0 475.0 458.8C478.3 457.7 481.7 457.2 485.0 456.2C487.5 455.6 490.0 454.7 492.5 453.8" stroke="#ff0000" stroke-width="2.35" fill="none" stroke-linejoin="round"/>
<path clip-path="url(#c0)" d="M449.0 474.2C453.5 473.9 458.0 473.6 462.5 473.8C466.7 473.9 470.8 474.5 475.0 475.0C480.8 475.6 486.7 475.9 492.5 476.2" stroke="#ff0000" stroke-width="2.35" fill="none" stroke-linejoin="round"/>
<path clip-path="url(#c0)" d="M449.0 476.1C451.4 477.1 453.8 478.0 456.2 475.6C458.3 473.6 460.4 469.1 462.5 466.9C464.2 465.1 465.8 464.7 467.5 464.4C470.0 463.8 472.5 463.3 475.0 463.1C480.8 462.6 486.7 463.8 492.5 465.0" stroke="#ff0000" stroke-width="2.35" fill="none" stroke-linejoin="round"/>
<path clip-path="url(#c0)" d="M449.0 475.0C453.5 475.7 458.0 476.4 462.5 475.0C465.8 474.0 469.2 471.7 472.5 470.0C475.4 468.5 478.3 467.3 481.2 466.2C485.0 464.9 488.8 463.7 492.5 462.5" stroke="#ff0000" stroke-width="2.35" fill="none" stroke-linejoin="round"/>
<path clip-path="url(#c0)" d="M379.0 544.0C381.8 540.2 384.7 536.3 387.5 532.5C391.7 526.9 395.8 521.2 400.0 516.2C404.2 511.3 408.3 507.0 412.5 503.1C416.7 499.2 420.8 495.8 425.0 493.1C429.2 490.5 433.3 488.6 437.5 487.5C441.3 486.5 445.2 486.0 449.0 485.6" stroke="#ff0000" stroke-width="2.35" fill="none" stroke-linejoin="round"/>
<path clip-path="url(#c0)" d="M449.0 485.6C452.7 486.1 456.3 486.5 460.0 487.5C464.2 488.6 468.3 490.5 472.5 492.5C475.8 494.1 479.2 495.7 482.5 496.9C485.8 498.0 489.2 498.7 492.5 499.4" stroke="#ff0000" stroke-width="2.35" fill="none" stroke-linejoin="round"/>
<path clip-path="url(#c0)" d="M379.0 544.0C381.8 541.4 384.7 538.7 387.5 536.2C391.7 532.6 395.8 529.2 400.0 526.2C404.2 523.3 408.3 520.7 412.5 518.8C416.7 516.8 420.8 515.4 425.0 514.4C429.2 513.3 433.3 512.6 437.5 512.2C441.3 511.9 445.2 511.9 449.0 511.9" stroke="#ff0000" stroke-width="2.35" fill="none" stroke-linejoin="round"/>
<path clip-path="url(#c0)" d="M379.0 544.0C381.8 541.5 384.7 538.9 387.5 536.5C391.7 532.9 395.8 529.6 400.0 526.6C404.2 523.7 408.3 521.1 412.5 519.1C416.7 517.2 420.8 515.8 425.0 514.8C429.2 513.7 433.3 513.0 437.5 512.6C441.3 512.3 445.2 512.1 449.0 512.0" stroke="#ff0000" stroke-width="2.35" fill="none" stroke-linejoin="round"/>
<path clip-path="url(#c0)" d="M449.0 512.0C452.7 511.5 456.3 511.0 460.0 510.0C463.3 509.1 466.7 507.8 470.0 506.2C473.8 504.6 477.5 502.6 481.2 501.2C485.0 499.9 488.8 499.0 492.5 498.1" stroke="#ff0000" stroke-width="2.35" fill="none" stroke-linejoin="round"/>
<path clip-path="url(#c0)" d="M449.0 511.9C451.4 511.7 453.8 511.5 456.2 510.6C459.2 509.6 462.1 507.6 465.0 505.0C468.3 502.0 471.7 498.3 475.0 495.0C477.5 492.6 480.0 490.4 482.5 488.8C485.8 486.5 489.2 485.1 492.5 483.8" stroke="#ff0000" stroke-width="2.35" fill="none" stroke-linejoin="round"/>
<path clip-path="url(#c0)" d="M449.0 474.2C457.7 474.3 466.3 474.3 475.0 475.0C480.8 475.4 486.7 476.2 492.5 476.9" stroke="#ff0000" stroke-width="2.35" fill="none" stroke-linejoin="round"/>
<path clip-path="url(#c0)" d="M449.0 464.5C453.5 465.1 458.0 465.6 462.5 466.0C472.5 466.8 482.5 466.5 492.5 466.2" stroke="#ff0000" stroke-width="2.35" fill="none" stroke-linejoin="round"/>
<path clip-path="url(#c0)" d="M449.0 478.2C453.5 478.3 458.0 478.3 462.5 478.8C466.7 479.2 470.8 480.0 475.0 481.2C478.3 482.3 481.7 483.6 485.0 484.4C487.5 485.0 490.0 485.3 492.5 485.6" stroke="#ff0000" stroke-width="2.35" fill="none" stroke-linejoin="round"/>
<path clip-path="url(#c0)" d="M449.0 478.8C451.4 478.4 453.8 478.1 456.2 476.2C458.3 474.6 460.4 471.8 462.5 468.8C463.3 467.5 464.2 466.3 465.0 465.0" stroke="#ff0000" stroke-width="2.35" fill="none" stroke-linejoin="round"/>
<path clip-path="url(#c0)" d="M462.5 477.5C465.8 475.9 469.2 474.4 472.5 472.5C475.4 470.8 478.3 468.9 481.2 467.5C483.3 466.5 485.4 465.7 487.5 465.0" stroke="#ff0000" stroke-width="2.35" fill="none" stroke-linejoin="round"/>
<path clip-path="url(#c0)" d="M449.0 474.5C453.5 474.8 458.0 475.1 462.5 475.6C466.7 476.1 470.8 476.8 475.0 477.5C480.8 478.5 486.7 479.6 492.5 480.6" stroke="#ff0000" stroke-width="2.35" fill="none" stroke-linejoin="round"/>
<path clip-path="url(#c1)" d="M508.8 192.2C514.2 192.5 519.6 192.7 525.0 192.9C531.2 193.1 537.5 193.3 543.8 193.5C550.0 193.7 556.2 193.7 562.5 193.8C572.1 193.8 581.7 193.8 591.2 193.8" stroke="#ff0000" stroke-width="2.35" fill="none" stroke-linejoin="round"/>
<path clip-path="url(#c1)" d="M508.8 215.0C512.1 213.3 515.4 211.7 518.8 210.0C522.9 207.9 527.1 205.7 531.2 203.8C535.4 201.8 539.6 200.0 543.8 198.8C547.9 197.5 552.1 196.8 556.2 196.2C560.4 195.7 564.6 195.2 568.8 195.0C572.9 194.8 577.1 194.8 581.2 194.8C584.6 194.7 587.9 194.7 591.2 194.6" stroke="#ff0000" stroke-width="2.35" fill="none" stroke-linejoin="round"/>
<path clip-path="url(#c1)" d="M508.8 203.1C512.1 205.8 515.4 208.5 518.8 211.2C522.9 214.6 527.1 218.0 531.2 221.2C535.4 224.5 539.6 227.6 543.8 231.2C546.7 233.8 549.6 236.7 552.5 239.4C555.8 242.4 559.2 245.1 562.5 247.5C565.8 249.9 569.2 251.8 572.5 253.8C575.4 255.4 578.3 257.1 581.2 258.1C584.6 259.3 587.9 259.6 591.2 260.0" stroke="#ff0000" stroke-width="2.35" fill="none" stroke-linejoin="round"/>
<path clip-path="url(#c1)" d="M508.8 236.9C514.2 237.4 519.6 237.9 525.0 238.1C529.2 238.3 533.3 238.4 537.5 238.1C541.7 237.9 545.8 237.4 550.0 236.9C554.2 236.4 558.3 235.9 562.5 235.6C566.7 235.3 570.8 235.1 575.0 235.0C580.4 234.8 585.8 234.8 591.2 234.8" stroke="#ff0000" stroke-width="2.35" fill="none" stroke-linejoin="round"/>
<path clip-path="url(#c1)" d="M508.8 245.2C512.1 245.2 515.4 245.1 518.8 244.8C522.9 244.3 527.1 243.5 531.2 242.5C535.4 241.5 539.6 240.4 543.8 239.4C546.7 238.7 549.6 238.0 552.5 236.9C555.8 235.6 559.2 233.9 562.5 232.5C565.8 231.1 569.2 230.2 572.5 229.4C575.4 228.7 578.3 228.1 581.2 227.8C584.6 227.4 587.9 227.3 591.2 227.2" stroke="#ff0000" stroke-width="2.35" fill="none" stroke-linejoin="round"/>
<path clip-path="url(#c1)" d="M508.8 260.0C512.1 258.4 515.4 256.8 518.8 255.0C522.9 252.7 527.1 250.1 531.2 247.5C535.4 244.9 539.6 242.3 543.8 240.6C546.7 239.4 549.6 238.7 552.5 238.1C555.8 237.5 559.2 237.2 562.5 236.9C566.7 236.5 570.8 236.2 575.0 236.0C580.4 235.7 585.8 235.7 591.2 235.6" stroke="#ff0000" stroke-width="2.35" fill="none" stroke-linejoin="round"/>
<path clip-path="url(#c1)" d="M508.8 275.6C514.2 274.4 519.6 273.3 525.0 271.9C531.2 270.3 537.5 268.4 543.8 266.9C550.0 265.3 556.2 264.1 562.5 263.1C567.5 262.3 572.5 261.6 577.5 261.2C582.1 260.9 586.7 260.8 591.2 260.6" stroke="#ff0000" stroke-width="2.35" fill="none" stroke-linejoin="round"/>
<path clip-path="url(#c1)" d="M508.8 276.0C514.2 275.8 519.6 275.7 525.0 275.6C531.2 275.5 537.5 275.6 543.8 275.0C547.9 274.6 552.1 273.9 556.2 273.1C560.4 272.3 564.6 271.4 568.8 270.6C572.9 269.9 577.1 269.3 581.2 269.0C584.6 268.8 587.9 268.8 591.2 268.8" stroke="#ff0000" stroke-width="2.35" fill="none" stroke-linejoin="round"/>
<path clip-path="url(#c1)" d="M508.8 276.2C514.2 276.7 519.6 277.1 525.0 277.8C531.2 278.5 537.5 279.4 543.8 280.0C547.9 280.4 552.1 280.7 556.2 280.6C560.4 280.6 564.6 280.3 568.8 279.8C572.9 279.2 577.1 278.5 581.2 278.1C584.6 277.8 587.9 277.6 591.2 277.5" stroke="#ff0000" stroke-width="2.35" fill="none" stroke-linejoin="round"/>
<path clip-path="url(#c1)" d="M508.8 286.2C511.2 287.3 513.8 288.4 516.2 289.4C519.2 290.5 522.1 291.6 525.0 291.9C527.5 292.1 530.0 291.8 532.5 291.2C536.2 290.4 540.0 289.1 543.8 288.1C547.9 287.0 552.1 286.2 556.2 285.6C560.4 285.0 564.6 284.6 568.8 284.4C572.9 284.1 577.1 284.0 581.2 284.0C584.6 284.0 587.9 284.0 591.2 284.0" stroke="#ff0000" stroke-width="2.35" fill="none" stroke-linejoin="round"/>
<path clip-path="url(#c1)" d="M508.8 308.8C511.2 306.4 513.8 304.1 516.2 302.5C518.3 301.2 520.4 300.4 522.5 300.0C524.6 299.6 526.7 299.4 528.8 300.0C530.8 300.6 532.9 301.9 535.0 303.1C537.9 304.9 540.8 306.5 543.8 308.1C546.7 309.8 549.6 311.4 552.5 313.1C555.8 315.1 559.2 317.2 562.5 319.4C565.8 321.5 569.2 323.8 572.5 325.6C575.4 327.2 578.3 328.6 581.2 329.4C584.6 330.3 587.9 330.4 591.2 330.6" stroke="#ff0000" stroke-width="2.35" fill="none" stroke-linejoin="round"/>
<path clip-path="url(#c1)" d="M508.8 313.1C512.1 311.0 515.4 308.9 518.8 306.9C522.9 304.4 527.1 302.0 531.2 300.0C535.4 298.0 539.6 296.4 543.8 295.6C547.9 294.8 552.1 294.8 556.2 295.0C560.4 295.2 564.6 295.5 568.8 296.0C572.9 296.5 577.1 297.1 581.2 297.5C584.6 297.8 587.9 298.0 591.2 298.1" stroke="#ff0000" stroke-width="2.35" fill="none" stroke-linejoin="round"/>
<path clip-path="url(#c1)" d="M508.8 330.0C512.1 329.3 515.4 328.6 518.8 328.1C522.9 327.6 527.1 327.4 531.2 327.5C535.4 327.6 539.6 328.1 543.8 328.8C547.9 329.4 552.1 330.4 556.2 331.2C560.4 332.1 564.6 332.8 568.8 333.8C572.9 334.7 577.1 335.7 581.2 336.2C584.6 336.7 587.9 336.8 591.2 336.9" stroke="#ff0000" stroke-width="2.35" fill="none" stroke-linejoin="round"/>
<path clip-path="url(#c1)" d="M508.8 331.2C512.1 332.5 515.4 333.7 518.8 335.0C522.9 336.7 527.1 338.5 531.2 340.6C535.4 342.7 539.6 345.1 543.8 347.5C546.7 349.2 549.6 350.9 552.5 352.5C555.8 354.3 559.2 356.0 562.5 356.9C566.7 357.9 570.8 357.6 575.0 357.5C580.4 357.3 585.8 357.4 591.2 357.5" stroke="#ff0000" stroke-width="2.35" fill="none" stroke-linejoin="round"/>
<path clip-path="url(#c1)" d="M508.8 340.6C512.1 339.4 515.4 338.2 518.8 336.9C522.9 335.2 527.1 333.2 531.2 331.9C533.3 331.2 535.4 330.7 537.5 330.0C541.7 328.7 545.8 326.8 550.0 325.0C554.2 323.2 558.3 321.4 562.5 320.0C566.7 318.6 570.8 317.8 575.0 317.2C580.4 316.6 585.8 316.5 591.2 316.5" stroke="#ff0000" stroke-width="2.35" fill="none" stroke-linejoin="round"/>
<path clip-path="url(#c1)" d="M508.8 338.8C514.2 337.7 519.6 336.6 525.0 336.2C531.2 335.9 537.5 336.5 543.8 337.5C550.0 338.5 556.2 339.9 562.5 341.2C568.8 342.6 575.0 343.8 581.2 344.4C584.6 344.7 587.9 344.8 591.2 345.0" stroke="#ff0000" stroke-width="2.35" fill="none" stroke-linejoin="round"/>
<path clip-path="url(#c1)" d="M508.8 360.0C512.1 361.0 515.4 361.9 518.8 363.1C522.9 364.6 527.1 366.4 531.2 368.1C535.4 369.8 539.6 371.4 543.8 372.5C547.9 373.6 552.1 374.3 556.2 375.0C560.4 375.7 564.6 376.4 568.8 376.9C572.9 377.3 577.1 377.6 581.2 377.8C584.6 377.9 587.9 378.0 591.2 378.1" stroke="#ff0000" stroke-width="2.35" fill="none" stroke-linejoin="round"/>
<path clip-path="url(#c1)" d="M508.8 375.0C514.2 373.8 519.6 372.6 525.0 371.2C529.2 370.2 533.3 369.1 537.5 367.5C541.7 365.9 545.8 363.7 550.0 361.9C554.2 360.0 558.3 358.4 562.5 356.9C566.7 355.3 570.8 353.8 575.0 352.5C578.3 351.5 581.7 350.6 585.0 350.2C587.1 350.0 589.2 350.0 591.2 350.0" stroke="#ff0000" stroke-width="2.35" fill="none" stroke-linejoin="round"/>
<path clip-path="url(#c1)" d="M508.8 366.9C514.2 368.0 519.6 369.1 525.0 370.0C529.2 370.7 533.3 371.2 537.5 371.9C543.8 372.9 550.0 374.1 556.2 373.8C559.2 373.6 562.1 373.0 565.0 373.1C568.3 373.2 571.7 374.2 575.0 375.0C578.3 375.8 581.7 376.4 585.0 376.9C587.1 377.1 589.2 377.3 591.2 377.5" stroke="#ff0000" stroke-width="2.35" fill="none" stroke-linejoin="round"/>
<path clip-path="url(#c1)" d="M508.8 375.0C514.2 374.0 519.6 373.0 525.0 373.1C529.2 373.2 533.3 374.1 537.5 375.0C541.7 375.9 545.8 377.0 550.0 377.5C554.2 378.0 558.3 378.0 562.5 378.8C566.7 379.5 570.8 381.0 575.0 382.5C580.4 384.4 585.8 386.3 591.2 388.1" stroke="#ff0000" stroke-width="2.35" fill="none" stroke-linejoin="round"/>
<path clip-path="url(#c1)" d="M508.8 383.8C514.2 382.8 519.6 381.9 525.0 381.2C531.2 380.5 537.5 380.1 543.8 380.0C550.0 379.9 556.2 380.1 562.5 380.6C568.8 381.1 575.0 382.0 581.2 382.5C584.6 382.8 587.9 382.9 591.2 383.1" stroke="#ff0000" stroke-width="2.35" fill="none" stroke-linejoin="round"/>
<path clip-path="url(#c1)" d="M508.8 389.4C514.2 388.8 519.6 388.3 525.0 387.5C531.2 386.6 537.5 385.4 543.8 385.0C550.0 384.6 556.2 385.1 562.5 385.6C568.8 386.2 575.0 386.9 581.2 387.5C584.6 387.8 587.9 388.2 591.2 388.5" stroke="#ff0000" stroke-width="2.35" fill="none" stroke-linejoin="round"/>
<path clip-path="url(#c1)" d="M508.8 393.8C514.2 391.6 519.6 389.4 525.0 387.5C529.2 386.1 533.3 384.8 537.5 383.8C541.7 382.7 545.8 381.7 550.0 381.2C554.2 380.8 558.3 380.8 562.5 381.2C566.7 381.7 570.8 382.7 575.0 383.8C580.4 385.1 585.8 386.6 591.2 388.1" stroke="#ff0000" stroke-width="2.35" fill="none" stroke-linejoin="round"/>
<path clip-path="url(#c1)" d="M508.8 402.5C514.2 399.4 519.6 396.3 525.0 393.8C529.2 391.8 533.3 390.2 537.5 388.8C541.7 387.3 545.8 385.9 550.0 385.0C554.2 384.1 558.3 383.6 562.5 383.8C566.7 383.9 570.8 384.8 575.0 385.6C580.4 386.7 585.8 387.7 591.2 388.8" stroke="#ff0000" stroke-width="2.35" fill="none" stroke-linejoin="round"/>
<path clip-path="url(#c1)" d="M508.8 415.0C512.1 412.9 515.4 410.8 518.8 408.8C522.9 406.2 527.1 403.6 531.2 401.2C534.6 399.4 537.9 397.6 541.2 395.6C544.2 393.9 547.1 392.0 550.0 390.6C554.2 388.7 558.3 387.9 562.5 387.5C566.7 387.1 570.8 387.2 575.0 387.5C580.4 387.8 585.8 388.4 591.2 389.0" stroke="#ff0000" stroke-width="2.35" fill="none" stroke-linejoin="round"/>
<path clip-path="url(#c1)" d="M508.8 426.2C512.1 424.1 515.4 422.0 518.8 420.0C522.9 417.5 527.1 415.1 531.2 412.5C535.4 409.9 539.6 407.2 543.8 404.4C547.9 401.6 552.1 398.7 556.2 396.5C560.4 394.3 564.6 392.6 568.8 391.5C572.9 390.4 577.1 389.8 581.2 389.4C584.6 389.1 587.9 388.9 591.2 388.8" stroke="#ff0000" stroke-width="2.35" fill="none" stroke-linejoin="round"/>
<path clip-path="url(#c1)" d="M508.8 425.0C514.2 423.3 519.6 421.6 525.0 420.0C531.2 418.1 537.5 416.2 543.8 413.8C547.9 412.1 552.1 410.2 556.2 408.1C560.4 406.1 564.6 404.0 568.8 401.9C572.9 399.8 577.1 397.7 581.2 395.0C583.3 393.7 585.4 392.2 587.5 391.2C588.8 390.7 590.0 390.3 591.2 390.0" stroke="#ff0000" stroke-width="2.35" fill="none" stroke-linejoin="round"/>
<path clip-path="url(#c1)" d="M508.8 395.0C512.1 396.8 515.4 398.6 518.8 400.0C522.9 401.8 527.1 403.0 531.2 403.8C535.4 404.5 539.6 404.7 543.8 404.4C547.9 404.1 552.1 403.3 556.2 402.5C560.4 401.7 564.6 400.7 568.8 400.0C572.9 399.3 577.1 398.8 581.2 398.5C584.6 398.3 587.9 398.2 591.2 398.1" stroke="#ff0000" stroke-width="2.35" fill="none" stroke-linejoin="round"/>
<path clip-path="url(#c1)" d="M508.8 406.2C514.2 406.8 519.6 407.4 525.0 407.5C531.2 407.6 537.5 407.2 543.8 406.9C550.0 406.5 556.2 406.3 562.5 406.2C568.8 406.2 575.0 406.2 581.2 406.2C584.6 406.3 587.9 406.3 591.2 406.2" stroke="#ff0000" stroke-width="2.35" fill="none" stroke-linejoin="round"/>
<path clip-path="url(#c1)" d="M508.8 436.2C514.2 434.2 519.6 432.1 525.0 430.0C531.2 427.5 537.5 424.9 543.8 422.5C547.9 420.9 552.1 419.3 556.2 418.1C560.4 417.0 564.6 416.2 568.8 415.6C572.9 415.1 577.1 414.7 581.2 414.4C584.6 414.1 587.9 413.9 591.2 413.8" stroke="#ff0000" stroke-width="2.35" fill="none" stroke-linejoin="round"/>
<path clip-path="url(#c1)" d="M508.8 452.5C512.1 450.5 515.4 448.5 518.8 446.2C522.9 443.5 527.1 440.3 531.2 437.5C535.4 434.7 539.6 432.2 543.8 430.0C547.9 427.8 552.1 425.9 556.2 424.4C560.4 422.8 564.6 421.6 568.8 420.6C572.9 419.6 577.1 418.8 581.2 418.1C584.6 417.6 587.9 417.2 591.2 416.9" stroke="#ff0000" stroke-width="2.35" fill="none" stroke-linejoin="round"/>
<path clip-path="url(#c1)" d="M508.8 450.0C514.2 448.1 519.6 446.2 525.0 443.8C529.2 441.9 533.3 439.6 537.5 437.5C541.7 435.4 545.8 433.4 550.0 431.2C554.2 429.1 558.3 426.9 562.5 425.0C565.8 423.5 569.2 422.3 572.5 421.9C575.4 421.5 578.3 421.8 581.2 421.9C584.6 421.9 587.9 421.7 591.2 421.5" stroke="#ff0000" stroke-width="2.35" fill="none" stroke-linejoin="round"/>
<path clip-path="url(#c1)" d="M508.8 465.0C512.1 463.5 515.4 462.0 518.8 460.0C522.9 457.5 527.1 454.3 531.2 451.2C535.4 448.2 539.6 445.4 543.8 442.5C547.9 439.6 552.1 436.6 556.2 433.8C560.4 430.9 564.6 428.3 568.8 426.2C572.9 424.2 577.1 422.6 581.2 421.9C584.6 421.3 587.9 421.3 591.2 421.2" stroke="#ff0000" stroke-width="2.35" fill="none" stroke-linejoin="round"/>
<path clip-path="url(#c1)" d="M508.8 402.5C512.1 405.0 515.4 407.5 518.8 410.0C522.9 413.2 527.1 416.4 531.2 420.0C535.4 423.6 539.6 427.5 543.8 431.2C547.9 435.0 552.1 438.5 556.2 441.2C560.4 444.0 564.6 446.1 568.8 447.5C572.9 448.9 577.1 449.6 581.2 450.0C584.6 450.3 587.9 450.5 591.2 450.6" stroke="#ff0000" stroke-width="2.35" fill="none" stroke-linejoin="round"/>
<path clip-path="url(#c1)" d="M508.8 408.8C512.1 410.4 515.4 412.1 518.8 413.8C522.9 415.8 527.1 417.8 531.2 418.8C537.5 420.2 543.8 419.2 550.0 418.8C556.2 418.3 562.5 418.3 568.8 418.1C572.9 418.0 577.1 417.8 581.2 417.5C584.6 417.3 587.9 417.1 591.2 416.9" stroke="#ff0000" stroke-width="2.35" fill="none" stroke-linejoin="round"/>
<path clip-path="url(#c1)" d="M508.8 427.5C512.1 428.6 515.4 429.8 518.8 431.2C522.9 433.1 527.1 435.5 531.2 437.5C535.4 439.5 539.6 441.3 543.8 442.5C547.9 443.7 552.1 444.4 556.2 445.0C560.4 445.6 564.6 446.1 568.8 446.2C572.9 446.4 577.1 446.3 581.2 446.2C584.6 446.2 587.9 446.2 591.2 446.2" stroke="#ff0000" stroke-width="2.35" fill="none" stroke-linejoin="round"/>
<path clip-path="url(#c1)" d="M508.8 430.0C512.1 432.0 515.4 434.1 518.8 436.2C522.9 438.9 527.1 441.8 531.2 445.0C535.4 448.2 539.6 451.7 543.8 455.0C547.9 458.3 552.1 461.3 556.2 463.8C560.4 466.2 564.6 468.1 568.8 470.0C572.9 471.9 577.1 474.0 581.2 475.0C584.6 475.8 587.9 476.0 591.2 476.2" stroke="#ff0000" stroke-width="2.35" fill="none" stroke-linejoin="round"/>
<path clip-path="url(#c1)" d="M508.8 432.5C512.1 435.0 515.4 437.5 518.8 440.0C522.9 443.2 527.1 446.4 531.2 450.0C534.2 452.5 537.1 455.1 540.0 457.5C543.3 460.2 546.7 462.5 550.0 465.0C553.3 467.5 556.7 470.1 560.0 472.5C563.3 474.9 566.7 477.0 570.0 478.8C573.8 480.7 577.5 482.2 581.2 483.8C583.3 484.6 585.4 485.4 587.5 486.2" stroke="#ff0000" stroke-width="2.35" fill="none" stroke-linejoin="round"/>
<path clip-path="url(#c1)" d="M525.0 413.8C529.2 415.7 533.3 417.7 537.5 418.8C541.7 419.8 545.8 419.9 550.0 420.0C554.2 420.1 558.3 420.3 562.5 421.2C566.7 422.2 570.8 424.0 575.0 425.6C578.3 426.9 581.7 428.0 585.0 428.8C587.1 429.2 589.2 429.5 591.2 429.8" stroke="#ff0000" stroke-width="2.35" fill="none" stroke-linejoin="round"/>
<path clip-path="url(#c1)" d="M543.8 436.2C546.7 438.5 549.6 440.7 552.5 442.5C555.8 444.6 559.2 446.0 562.5 447.5C565.8 449.0 569.2 450.4 572.5 451.2C575.4 452.0 578.3 452.4 581.2 452.5C584.6 452.7 587.9 452.6 591.2 452.5" stroke="#ff0000" stroke-width="2.35" fill="none" stroke-linejoin="round"/>
<path clip-path="url(#c1)" d="M562.5 453.8C565.0 455.9 567.5 458.1 570.0 460.0C572.5 461.9 575.0 463.5 577.5 465.0C580.0 466.5 582.5 468.0 585.0 468.8C587.1 469.4 589.2 469.6 591.2 469.8" stroke="#ff0000" stroke-width="2.35" fill="none" stroke-linejoin="round"/>
<path clip-path="url(#c1)" d="M508.8 463.8C512.1 465.1 515.4 466.4 518.8 467.5C522.9 468.9 527.1 470.0 531.2 471.2C535.4 472.5 539.6 474.0 543.8 475.0C550.0 476.5 556.2 476.8 562.5 476.9C568.8 476.9 575.0 476.6 581.2 476.2C584.6 476.1 587.9 475.8 591.2 475.6" stroke="#ff0000" stroke-width="2.35" fill="none" stroke-linejoin="round"/>
<path clip-path="url(#c1)" d="M508.8 472.5C514.2 472.1 519.6 471.6 525.0 470.0C529.2 468.7 533.3 466.8 537.5 465.0C541.7 463.2 545.8 461.6 550.0 460.0C554.2 458.4 558.3 456.7 562.5 455.6C566.7 454.5 570.8 454.1 575.0 453.8C580.4 453.3 585.8 453.2 591.2 453.1" stroke="#ff0000" stroke-width="2.35" fill="none" stroke-linejoin="round"/>
<path clip-path="url(#c1)" d="M508.8 477.5C514.2 477.0 519.6 476.4 525.0 476.2C531.2 476.1 537.5 476.4 543.8 476.2C550.0 476.1 556.2 475.6 562.5 475.0C568.8 474.4 575.0 473.9 581.2 473.8C584.6 473.7 587.9 473.7 591.2 473.8" stroke="#ff0000" stroke-width="2.35" fill="none" stroke-linejoin="round"/>
<path clip-path="url(#c1)" d="M508.8 482.5C514.2 482.0 519.6 481.5 525.0 481.2C533.3 480.9 541.7 481.2 550.0 481.2C558.3 481.3 566.7 481.3 575.0 481.2C580.4 481.2 585.8 481.2 591.2 481.2" stroke="#ff0000" stroke-width="2.35" fill="none" stroke-linejoin="round"/>
<path clip-path="url(#c1)" d="M531.2 482.5C535.4 481.1 539.6 479.7 543.8 481.2C545.8 482.0 547.9 483.5 550.0 485.0" stroke="#ff0000" stroke-width="2.35" fill="none" stroke-linejoin="round"/>
<path clip-path="url(#c1)" d="M508.8 496.9C510.8 495.9 512.9 494.9 515.0 493.8C517.5 492.4 520.0 490.9 522.5 489.4C525.4 487.6 528.3 485.8 531.2 484.4C534.2 483.0 537.1 482.0 540.0 481.9C542.5 481.7 545.0 482.1 547.5 483.1C550.0 484.1 552.5 485.7 555.0 488.1C557.5 490.6 560.0 494.0 562.5 497.5C565.0 501.0 567.5 504.8 570.0 508.8C572.5 512.7 575.0 517.0 577.5 521.2C580.0 525.5 582.5 529.6 585.0 533.8C587.1 537.2 589.2 540.6 591.2 544.0" stroke="#ff0000" stroke-width="2.35" fill="none" stroke-linejoin="round"/>
<path clip-path="url(#c1)" d="M508.8 485.0C510.8 485.1 512.9 485.3 515.0 485.6C517.5 486.1 520.0 486.9 522.5 488.1C525.4 489.6 528.3 491.7 531.2 493.8C535.4 496.7 539.6 499.4 543.8 502.5C547.9 505.6 552.1 509.0 556.2 512.5C560.4 516.0 564.6 519.5 568.8 523.1C572.9 526.7 577.1 530.5 581.2 534.4C584.6 537.5 587.9 540.8 591.2 544.0" stroke="#ff0000" stroke-width="2.35" fill="none" stroke-linejoin="round"/>
<path clip-path="url(#c1)" d="M508.8 486.9C510.8 487.2 512.9 487.6 515.0 488.4C517.5 489.4 520.0 491.0 522.5 492.8C525.4 494.7 528.3 496.8 531.2 498.8C535.4 501.5 539.6 504.1 543.8 506.9C547.9 509.6 552.1 512.5 556.2 515.6C560.4 518.7 564.6 522.0 568.8 525.2C572.9 528.5 577.1 531.7 581.2 535.2C584.6 538.1 587.9 541.0 591.2 544.0" stroke="#ff0000" stroke-width="2.35" fill="none" stroke-linejoin="round"/>
<path clip-path="url(#c1)" d="M508.8 499.4C512.1 500.1 515.4 500.8 518.8 501.2C522.9 501.8 527.1 501.7 531.2 501.2C535.4 500.8 539.6 499.8 543.8 498.8C547.9 497.7 552.1 496.5 556.2 495.0C560.4 493.5 564.6 491.7 568.8 490.0C572.9 488.3 577.1 486.7 581.2 485.0C584.6 483.6 587.9 482.1 591.2 480.6" stroke="#ff0000" stroke-width="2.35" fill="none" stroke-linejoin="round"/>
<path clip-path="url(#c1)" d="M508.8 472.5C514.2 472.6 519.6 472.7 525.0 471.9C529.2 471.2 533.3 470.0 537.5 468.8C541.7 467.5 545.8 466.3 550.0 465.0" stroke="#ff0000" stroke-width="2.35" fill="none" stroke-linejoin="round"/>
<path clip-path="url(#c1)" d="M550.0 465.0C552.1 466.7 554.2 468.4 556.2 470.0C559.2 472.2 562.1 474.3 565.0 476.2C568.3 478.5 571.7 480.8 575.0 482.5C578.3 484.2 581.7 485.5 585.0 486.2C587.1 486.7 589.2 487.0 591.2 487.2" stroke="#ff0000" stroke-width="2.35" fill="none" stroke-linejoin="round"/>
<path clip-path="url(#c1)" d="M577.5 465.0C580.0 466.5 582.5 467.9 585.0 468.8C587.1 469.5 589.2 469.7 591.2 470.0" stroke="#ff0000" stroke-width="2.35" fill="none" stroke-linejoin="round"/>
<path clip-path="url(#c2)" d="M608.2 186.9C611.8 187.0 615.2 187.1 618.8 187.5C621.7 187.8 624.6 188.4 627.5 188.8C630.2 189.1 633.0 189.2 635.8 189.4" stroke="#ff0000" stroke-width="2.35" fill="none" stroke-linejoin="round"/>
<path clip-path="url(#c2)" d="M608.2 201.9C611.8 202.0 615.2 202.1 618.8 202.8C621.7 203.3 624.6 204.1 627.5 204.8C630.2 205.4 633.0 205.8 635.8 206.2" stroke="#ff0000" stroke-width="2.35" fill="none" stroke-linejoin="round"/>
<path clip-path="url(#c2)" d="M608.2 235.0C610.5 234.3 612.8 233.6 615.0 232.5C617.5 231.2 620.0 229.4 622.5 227.5C624.6 225.9 626.7 224.2 628.8 222.5C631.1 220.6 633.4 218.7 635.8 216.9" stroke="#ff0000" stroke-width="2.35" fill="none" stroke-linejoin="round"/>
<path clip-path="url(#c2)" d="M608.2 248.1C611.8 248.0 615.2 247.8 618.8 247.5C621.7 247.2 624.6 246.8 627.5 246.5C630.2 246.2 633.0 245.9 635.8 245.6" stroke="#ff0000" stroke-width="2.35" fill="none" stroke-linejoin="round"/>
<path clip-path="url(#c2)" d="M608.2 253.1C611.8 252.8 615.2 252.5 618.8 251.9C621.7 251.4 624.6 250.7 627.5 250.0C630.2 249.3 633.0 248.5 635.8 247.8" stroke="#ff0000" stroke-width="2.35" fill="none" stroke-linejoin="round"/>
<path clip-path="url(#c2)" d="M608.2 256.2C611.8 256.6 615.2 257.0 618.8 257.5C621.7 257.9 624.6 258.3 627.5 258.8C630.2 259.2 633.0 259.6 635.8 260.0" stroke="#ff0000" stroke-width="2.35" fill="none" stroke-linejoin="round"/>
<path clip-path="url(#c3)" d="M652.4 188.8C655.8 189.1 659.1 189.5 662.5 189.8C666.7 190.1 670.8 190.4 675.0 190.4C679.2 190.4 683.3 190.2 687.5 190.0C691.7 189.8 695.8 189.7 700.0 189.6C704.4 189.6 708.8 189.6 713.2 189.6" stroke="#ff0000" stroke-width="2.35" fill="none" stroke-linejoin="round"/>
<path clip-path="url(#c3)" d="M652.4 216.9C654.9 215.1 657.5 213.3 660.0 211.2C663.3 208.6 666.7 205.5 670.0 202.5C673.3 199.5 676.7 196.5 680.0 193.8C683.3 191.0 686.7 188.7 690.0 186.9C693.3 185.1 696.7 183.9 700.0 183.1C702.5 182.5 705.0 182.1 707.5 181.9C709.4 181.7 711.3 181.6 713.2 181.5" stroke="#ff0000" stroke-width="2.35" fill="none" stroke-linejoin="round"/>
<path clip-path="url(#c3)" d="M652.4 205.6C655.8 207.0 659.1 208.4 662.5 210.0C665.8 211.6 669.2 213.5 672.5 215.6C675.8 217.8 679.2 220.2 682.5 222.5C685.8 224.8 689.2 227.0 692.5 228.8C695.8 230.5 699.2 232.0 702.5 233.1C705.0 234.0 707.5 234.7 710.0 235.0C711.1 235.1 712.2 235.2 713.2 235.2" stroke="#ff0000" stroke-width="2.35" fill="none" stroke-linejoin="round"/>
<path clip-path="url(#c3)" d="M652.4 246.2C655.8 245.4 659.1 244.6 662.5 243.8C666.7 242.7 670.8 241.7 675.0 240.6C679.2 239.5 683.3 238.4 687.5 237.5C691.7 236.6 695.8 236.0 700.0 235.6C704.4 235.2 708.8 235.0 713.2 234.8" stroke="#ff0000" stroke-width="2.35" fill="none" stroke-linejoin="round"/>
<path clip-path="url(#c3)" d="M652.4 248.8C655.8 248.2 659.1 247.6 662.5 246.9C666.7 246.0 670.8 244.9 675.0 243.8C679.2 242.6 683.3 241.5 687.5 240.6C691.7 239.7 695.8 239.1 700.0 238.1C702.9 237.4 705.8 236.6 708.8 236.0C710.2 235.7 711.8 235.5 713.2 235.2" stroke="#ff0000" stroke-width="2.35" fill="none" stroke-linejoin="round"/>
<path clip-path="url(#c2)" d="M608.2 257.5C610.9 257.9 613.6 258.4 616.2 259.4C619.2 260.4 622.1 262.2 625.0 263.8C627.1 264.9 629.2 265.9 631.2 266.9C632.8 267.5 634.2 268.1 635.8 268.8" stroke="#ff0000" stroke-width="2.35" fill="none" stroke-linejoin="round"/>
<path clip-path="url(#c2)" d="M608.2 273.1 L635.8 273.1" stroke="#ff0000" stroke-width="2.35" fill="none" stroke-linejoin="round"/>
<path clip-path="url(#c2)" d="M608.2 275.6 L635.8 275.6" stroke="#ff0000" stroke-width="2.35" fill="none" stroke-linejoin="round"/>
<path clip-path="url(#c2)" d="M608.2 288.1C611.8 288.1 615.2 288.0 618.8 288.8C621.7 289.4 624.6 290.6 627.5 291.9C630.2 293.1 633.0 294.4 635.8 295.6" stroke="#ff0000" stroke-width="2.35" fill="none" stroke-linejoin="round"/>
<path clip-path="url(#c2)" d="M608.2 308.8C610.9 308.5 613.6 308.3 616.2 307.5C619.2 306.7 622.1 305.2 625.0 303.8C627.1 302.7 629.2 301.7 631.2 300.6C632.8 299.8 634.2 299.0 635.8 298.1" stroke="#ff0000" stroke-width="2.35" fill="none" stroke-linejoin="round"/>
<path clip-path="url(#c2)" d="M608.2 316.2C611.8 316.6 615.2 316.9 618.8 316.9C621.7 316.9 624.6 316.6 627.5 316.5C630.2 316.4 633.0 316.3 635.8 316.2" stroke="#ff0000" stroke-width="2.35" fill="none" stroke-linejoin="round"/>
<path clip-path="url(#c2)" d="M608.2 316.9C611.8 317.1 615.2 317.4 618.8 318.1C621.7 318.7 624.6 319.7 627.5 320.6C630.2 321.5 633.0 322.3 635.8 323.1" stroke="#ff0000" stroke-width="2.35" fill="none" stroke-linejoin="round"/>
<path clip-path="url(#c2)" d="M608.2 327.5C611.8 327.6 615.2 327.6 618.8 328.1C621.7 328.5 624.6 329.2 627.5 330.0C630.2 330.8 633.0 331.6 635.8 332.5" stroke="#ff0000" stroke-width="2.35" fill="none" stroke-linejoin="round"/>
<path clip-path="url(#c3)" d="M652.4 260.6C655.8 261.4 659.1 262.2 662.5 263.1C666.7 264.2 670.8 265.5 675.0 266.9C679.2 268.2 683.3 269.6 687.5 270.6C691.7 271.7 695.8 272.3 700.0 272.8C704.4 273.2 708.8 273.3 713.2 273.5" stroke="#ff0000" stroke-width="2.35" fill="none" stroke-linejoin="round"/>
<path clip-path="url(#c3)" d="M652.4 268.8C654.1 269.4 655.8 270.1 657.5 270.6C660.0 271.4 662.5 272.1 665.0 272.5C668.3 273.1 671.7 273.3 675.0 273.5C679.2 273.7 683.3 273.9 687.5 274.0C691.7 274.1 695.8 274.0 700.0 274.0C704.4 274.0 708.8 274.0 713.2 274.0" stroke="#ff0000" stroke-width="2.35" fill="none" stroke-linejoin="round"/>
<path clip-path="url(#c3)" d="M652.4 274.4C655.8 274.5 659.1 274.6 662.5 274.8C666.7 274.9 670.8 275.2 675.0 275.6C679.2 276.1 683.3 276.8 687.5 277.2C691.7 277.7 695.8 278.0 700.0 278.1C704.4 278.3 708.8 278.4 713.2 278.5" stroke="#ff0000" stroke-width="2.35" fill="none" stroke-linejoin="round"/>
<path clip-path="url(#c3)" d="M652.4 275.6C655.8 275.8 659.1 276.0 662.5 276.2C666.7 276.6 670.8 277.0 675.0 277.5C679.2 278.0 683.3 278.6 687.5 279.0C691.7 279.4 695.8 279.6 700.0 279.8C704.4 279.9 708.8 279.9 713.2 280.0" stroke="#ff0000" stroke-width="2.35" fill="none" stroke-linejoin="round"/>
<path clip-path="url(#c3)" d="M652.4 296.9C654.9 295.4 657.5 294.0 660.0 292.5C663.3 290.5 666.7 288.5 670.0 286.9C673.3 285.2 676.7 284.0 680.0 283.1C683.3 282.2 686.7 281.6 690.0 281.2C693.3 280.9 696.7 280.7 700.0 280.6C704.4 280.5 708.8 280.4 713.2 280.2" stroke="#ff0000" stroke-width="2.35" fill="none" stroke-linejoin="round"/>
<path clip-path="url(#c3)" d="M652.4 296.2C654.9 296.7 657.5 297.2 660.0 298.8C662.5 300.2 665.0 302.7 667.5 305.0C670.0 307.3 672.5 309.3 675.0 311.2C677.5 313.2 680.0 315.2 682.5 316.9C685.0 318.6 687.5 320.0 690.0 321.2C693.3 322.9 696.7 324.1 700.0 325.0C704.4 326.2 708.8 326.8 713.2 327.5" stroke="#ff0000" stroke-width="2.35" fill="none" stroke-linejoin="round"/>
<path clip-path="url(#c3)" d="M652.4 316.9C655.8 316.7 659.1 316.4 662.5 316.5C666.7 316.6 670.8 317.1 675.0 318.1C679.2 319.1 683.3 320.6 687.5 321.9C691.7 323.1 695.8 324.1 700.0 325.0C704.4 325.9 708.8 326.7 713.2 327.5" stroke="#ff0000" stroke-width="2.35" fill="none" stroke-linejoin="round"/>
<path clip-path="url(#c3)" d="M652.4 335.0C655.8 333.8 659.1 332.5 662.5 331.2C665.8 330.0 669.2 328.7 672.5 327.5C675.8 326.3 679.2 325.2 682.5 324.4C685.8 323.5 689.2 322.9 692.5 322.5C695.8 322.1 699.2 321.8 702.5 321.5C706.1 321.2 709.7 320.9 713.2 320.6" stroke="#ff0000" stroke-width="2.35" fill="none" stroke-linejoin="round"/>
<path clip-path="url(#c3)" d="M652.4 323.8C655.8 325.0 659.1 326.2 662.5 327.5C665.8 328.8 669.2 330.1 672.5 331.2C675.8 332.4 679.2 333.5 682.5 334.4C684.2 334.8 685.8 335.2 687.5 335.6C691.7 336.7 695.8 338.1 700.0 338.8C704.4 339.5 708.8 339.4 713.2 339.4" stroke="#ff0000" stroke-width="2.35" fill="none" stroke-linejoin="round"/>
<path clip-path="url(#c2)" d="M608.2 342.5C610.9 342.5 613.6 342.4 616.2 341.9C619.2 341.3 622.1 340.1 625.0 338.8C627.1 337.8 629.2 336.7 631.2 335.6C632.8 334.8 634.2 334.0 635.8 333.1" stroke="#ff0000" stroke-width="2.35" fill="none" stroke-linejoin="round"/>
<path clip-path="url(#c2)" d="M608.2 339.4C613.8 339.3 619.4 339.1 625.0 340.0C628.6 340.6 632.2 341.5 635.8 342.5" stroke="#ff0000" stroke-width="2.35" fill="none" stroke-linejoin="round"/>
<path clip-path="url(#c2)" d="M608.2 357.5C611.8 357.6 615.2 357.8 618.8 358.1C621.7 358.4 624.6 358.8 627.5 359.4C630.2 359.9 633.0 360.6 635.8 361.2" stroke="#ff0000" stroke-width="2.35" fill="none" stroke-linejoin="round"/>
<path clip-path="url(#c2)" d="M608.2 367.5C611.8 367.3 615.2 367.1 618.8 367.2C621.7 367.4 624.6 367.7 627.5 368.1C630.2 368.5 633.0 368.9 635.8 369.4" stroke="#ff0000" stroke-width="2.35" fill="none" stroke-linejoin="round"/>
<path clip-path="url(#c2)" d="M608.2 378.1C610.9 377.4 613.6 376.7 616.2 375.6C619.2 374.4 622.1 372.7 625.0 371.2C627.1 370.2 629.2 369.2 631.2 368.1C632.8 367.3 634.2 366.5 635.8 365.6" stroke="#ff0000" stroke-width="2.35" fill="none" stroke-linejoin="round"/>
<path clip-path="url(#c2)" d="M608.2 376.2C611.8 376.9 615.2 377.6 618.8 377.5C621.7 377.4 624.6 376.8 627.5 376.2C630.2 375.8 633.0 375.4 635.8 375.0" stroke="#ff0000" stroke-width="2.35" fill="none" stroke-linejoin="round"/>
<path clip-path="url(#c2)" d="M608.2 380.0C610.9 379.8 613.6 379.5 616.2 378.8C619.2 377.9 622.1 376.4 625.0 375.0C628.6 373.3 632.2 371.6 635.8 370.0" stroke="#ff0000" stroke-width="2.35" fill="none" stroke-linejoin="round"/>
<path clip-path="url(#c2)" d="M608.2 381.2C611.8 381.4 615.2 381.5 618.8 381.9C621.7 382.2 624.6 382.6 627.5 383.1C630.2 383.7 633.0 384.3 635.8 385.0" stroke="#ff0000" stroke-width="2.35" fill="none" stroke-linejoin="round"/>
<path clip-path="url(#c2)" d="M608.2 386.9C610.9 388.0 613.6 389.1 616.2 390.6C619.2 392.3 622.1 394.4 625.0 396.2C627.1 397.6 629.2 398.8 631.2 400.0C632.8 400.8 634.2 401.7 635.8 402.5" stroke="#ff0000" stroke-width="2.35" fill="none" stroke-linejoin="round"/>
<path clip-path="url(#c2)" d="M608.2 398.8C611.8 398.7 615.2 398.7 618.8 399.0C621.7 399.3 624.6 399.8 627.5 400.0C630.2 400.2 633.0 400.1 635.8 400.0" stroke="#ff0000" stroke-width="2.35" fill="none" stroke-linejoin="round"/>
<path clip-path="url(#c2)" d="M608.2 400.6C611.8 401.1 615.2 401.7 618.8 402.5C621.7 403.2 624.6 404.1 627.5 405.0C630.2 405.8 633.0 406.7 635.8 407.5" stroke="#ff0000" stroke-width="2.35" fill="none" stroke-linejoin="round"/>
<path clip-path="url(#c2)" d="M608.2 407.5C611.8 408.1 615.2 408.7 618.8 409.4C620.8 409.8 622.9 410.2 625.0 410.6" stroke="#ff0000" stroke-width="2.35" fill="none" stroke-linejoin="round"/>
<path clip-path="url(#c2)" d="M618.8 413.8C620.8 412.4 622.9 411.1 625.0 410.0C628.6 408.0 632.2 406.5 635.8 405.0" stroke="#ff0000" stroke-width="2.35" fill="none" stroke-linejoin="round"/>
<path clip-path="url(#c3)" d="M652.4 335.6C654.9 334.6 657.5 333.6 660.0 332.5C663.3 331.1 666.7 329.5 670.0 328.1C673.3 326.7 676.7 325.4 680.0 324.4C683.3 323.3 686.7 322.5 690.0 321.9C693.3 321.3 696.7 320.9 700.0 320.6C704.4 320.3 708.8 320.1 713.2 320.0" stroke="#ff0000" stroke-width="2.35" fill="none" stroke-linejoin="round"/>
<path clip-path="url(#c3)" d="M652.4 332.5C655.8 333.6 659.1 334.7 662.5 336.2C665.8 337.8 669.2 339.7 672.5 341.9C675.4 343.8 678.3 345.9 681.2 348.1C684.2 350.4 687.1 352.8 690.0 355.0C693.3 357.5 696.7 359.7 700.0 361.9C702.5 363.5 705.0 365.0 707.5 366.2C709.4 367.2 711.3 368.0 713.2 368.8" stroke="#ff0000" stroke-width="2.35" fill="none" stroke-linejoin="round"/>
<path clip-path="url(#c3)" d="M652.4 342.5C655.8 342.9 659.1 343.3 662.5 343.5C666.7 343.7 670.8 343.6 675.0 343.1C679.2 342.7 683.3 341.8 687.5 341.2C691.7 340.7 695.8 340.3 700.0 340.0C704.4 339.7 708.8 339.5 713.2 339.4" stroke="#ff0000" stroke-width="2.35" fill="none" stroke-linejoin="round"/>
<path clip-path="url(#c3)" d="M652.4 363.1C655.8 362.7 659.1 362.2 662.5 361.9C666.7 361.5 670.8 361.3 675.0 361.9C678.3 362.3 681.7 363.2 685.0 364.4C688.3 365.6 691.7 367.0 695.0 368.1C697.9 369.1 700.8 369.7 703.8 370.0C706.9 370.3 710.1 370.1 713.2 370.0" stroke="#ff0000" stroke-width="2.35" fill="none" stroke-linejoin="round"/>
<path clip-path="url(#c3)" d="M652.4 366.9C654.9 365.7 657.5 364.4 660.0 363.8C663.3 362.8 666.7 362.8 670.0 363.1C673.3 363.4 676.7 364.1 680.0 365.0C683.3 365.9 686.7 367.2 690.0 368.1C693.3 369.0 696.7 369.6 700.0 370.0C704.4 370.5 708.8 370.6 713.2 370.6" stroke="#ff0000" stroke-width="2.35" fill="none" stroke-linejoin="round"/>
<path clip-path="url(#c3)" d="M652.4 370.0C655.8 369.9 659.1 369.7 662.5 369.4C666.7 369.0 670.8 368.3 675.0 368.1C679.2 368.0 683.3 368.4 687.5 368.8C691.7 369.1 695.8 369.2 700.0 369.4C704.4 369.6 708.8 369.8 713.2 370.0" stroke="#ff0000" stroke-width="2.35" fill="none" stroke-linejoin="round"/>
<path clip-path="url(#c3)" d="M652.4 372.5C655.8 372.5 659.1 372.6 662.5 372.5C666.7 372.4 670.8 372.2 675.0 371.9C679.2 371.6 683.3 371.1 687.5 371.2C691.7 371.4 695.8 372.0 700.0 372.5C704.4 373.0 708.8 373.4 713.2 373.8" stroke="#ff0000" stroke-width="2.35" fill="none" stroke-linejoin="round"/>
<path clip-path="url(#c3)" d="M652.4 376.2C655.8 375.3 659.1 374.4 662.5 373.8C666.7 372.9 670.8 372.5 675.0 372.5C679.2 372.5 683.3 372.9 687.5 373.1C691.7 373.4 695.8 373.6 700.0 373.8C704.4 373.9 708.8 374.2 713.2 374.4" stroke="#ff0000" stroke-width="2.35" fill="none" stroke-linejoin="round"/>
<path clip-path="url(#c3)" d="M652.4 381.2C655.8 382.2 659.1 383.1 662.5 383.8C666.7 384.5 670.8 384.8 675.0 384.4C679.2 383.9 683.3 382.8 687.5 381.2C691.7 379.7 695.8 377.7 700.0 376.2C704.4 374.7 708.8 373.6 713.2 372.5" stroke="#ff0000" stroke-width="2.35" fill="none" stroke-linejoin="round"/>
<path clip-path="url(#c3)" d="M652.4 382.5C654.9 383.7 657.5 384.8 660.0 386.2C663.3 388.1 666.7 390.5 670.0 392.5C673.3 394.5 676.7 396.0 680.0 397.5C683.3 399.0 686.7 400.3 690.0 401.2C693.3 402.2 696.7 402.8 700.0 403.1C704.4 403.6 708.8 403.7 713.2 403.8" stroke="#ff0000" stroke-width="2.35" fill="none" stroke-linejoin="round"/>
<path clip-path="url(#c3)" d="M652.4 400.0C655.8 398.8 659.1 397.6 662.5 396.2C665.8 394.9 669.2 393.5 672.5 391.9C675.8 390.3 679.2 388.5 682.5 386.9C685.8 385.2 689.2 383.7 692.5 382.5C695.8 381.3 699.2 380.5 702.5 380.0C706.1 379.5 709.7 379.4 713.2 379.4" stroke="#ff0000" stroke-width="2.35" fill="none" stroke-linejoin="round"/>
<path clip-path="url(#c3)" d="M652.4 406.2C655.8 404.7 659.1 403.2 662.5 401.2C665.8 399.3 669.2 396.9 672.5 395.0C675.8 393.1 679.2 391.6 682.5 390.6C685.8 389.6 689.2 389.1 692.5 388.8C695.8 388.4 699.2 388.2 702.5 388.1C706.1 388.0 709.7 388.1 713.2 388.1" stroke="#ff0000" stroke-width="2.35" fill="none" stroke-linejoin="round"/>
<path clip-path="url(#c3)" d="M672.5 390.0C675.4 392.6 678.3 395.2 681.2 397.5C684.2 399.8 687.1 401.7 690.0 403.1C693.3 404.7 696.7 405.7 700.0 406.2C704.4 407.0 708.8 407.3 713.2 407.5" stroke="#ff0000" stroke-width="2.35" fill="none" stroke-linejoin="round"/>
<path clip-path="url(#c2)" d="M608.2 411.2C611.8 411.2 615.2 411.2 618.8 410.6C621.7 410.1 624.6 409.2 627.5 408.1C630.2 407.1 633.0 406.1 635.8 405.0" stroke="#ff0000" stroke-width="2.35" fill="none" stroke-linejoin="round"/>
<path clip-path="url(#c2)" d="M608.2 412.5C611.8 412.7 615.2 412.9 618.8 413.1C621.7 413.3 624.6 413.5 627.5 413.8C630.2 414.0 633.0 414.2 635.8 414.4" stroke="#ff0000" stroke-width="2.35" fill="none" stroke-linejoin="round"/>
<path clip-path="url(#c2)" d="M608.2 415.6 L635.8 416.9" stroke="#ff0000" stroke-width="2.35" fill="none" stroke-linejoin="round"/>
<path clip-path="url(#c2)" d="M608.2 418.8C611.8 418.5 615.2 418.3 618.8 418.1C621.7 418.0 624.6 418.0 627.5 418.1C630.2 418.2 633.0 418.5 635.8 418.8" stroke="#ff0000" stroke-width="2.35" fill="none" stroke-linejoin="round"/>
<path clip-path="url(#c2)" d="M608.2 425.0C611.8 424.9 615.2 424.9 618.8 424.8C621.7 424.7 624.6 424.6 627.5 424.4C630.2 424.2 633.0 424.0 635.8 423.8" stroke="#ff0000" stroke-width="2.35" fill="none" stroke-linejoin="round"/>
<path clip-path="url(#c2)" d="M608.2 439.4C610.9 438.8 613.6 438.3 616.2 437.5C619.2 436.6 622.1 435.5 625.0 434.4C628.6 433.0 632.2 431.8 635.8 430.6" stroke="#ff0000" stroke-width="2.35" fill="none" stroke-linejoin="round"/>
<path clip-path="url(#c2)" d="M608.2 441.2C611.8 440.9 615.2 440.6 618.8 440.6C621.7 440.6 624.6 440.9 627.5 441.2C630.2 441.6 633.0 442.0 635.8 442.5" stroke="#ff0000" stroke-width="2.35" fill="none" stroke-linejoin="round"/>
<path clip-path="url(#c2)" d="M608.2 443.8C611.8 443.4 615.2 443.1 618.8 443.1C621.7 443.2 624.6 443.5 627.5 443.8C630.2 444.0 633.0 444.2 635.8 444.4" stroke="#ff0000" stroke-width="2.35" fill="none" stroke-linejoin="round"/>
<path clip-path="url(#c2)" d="M608.2 445.0C611.8 445.3 615.2 445.6 618.8 445.6C621.7 445.6 624.6 445.4 627.5 445.0C630.2 444.7 633.0 444.2 635.8 443.8" stroke="#ff0000" stroke-width="2.35" fill="none" stroke-linejoin="round"/>
<path clip-path="url(#c2)" d="M608.2 451.9C610.9 451.8 613.6 451.7 616.2 451.2C619.2 450.8 622.1 450.0 625.0 448.8C627.1 447.9 629.2 446.8 631.2 445.6C632.8 444.8 634.2 444.0 635.8 443.1" stroke="#ff0000" stroke-width="2.35" fill="none" stroke-linejoin="round"/>
<path clip-path="url(#c2)" d="M608.2 460.0C610.9 459.5 613.6 459.0 616.2 458.1C619.2 457.1 622.1 455.6 625.0 453.8C627.1 452.4 629.2 450.9 631.2 449.4C632.8 448.3 634.2 447.3 635.8 446.2" stroke="#ff0000" stroke-width="2.35" fill="none" stroke-linejoin="round"/>
<path clip-path="url(#c2)" d="M625.0 447.5C627.1 448.9 629.2 450.3 631.2 451.9C632.8 453.0 634.2 454.3 635.8 455.6" stroke="#ff0000" stroke-width="2.35" fill="none" stroke-linejoin="round"/>
<path clip-path="url(#c2)" d="M608.2 463.1 L635.8 462.5" stroke="#ff0000" stroke-width="2.35" fill="none" stroke-linejoin="round"/>
<path clip-path="url(#c2)" d="M608.2 466.2 L635.8 465.0" stroke="#ff0000" stroke-width="2.35" fill="none" stroke-linejoin="round"/>
<path clip-path="url(#c2)" d="M608.2 478.8C610.9 477.9 613.6 477.1 616.2 476.2C619.2 475.3 622.1 474.3 625.0 473.8C628.6 473.1 632.2 473.1 635.8 473.1" stroke="#ff0000" stroke-width="2.35" fill="none" stroke-linejoin="round"/>
<path clip-path="url(#c2)" d="M608.2 480.0C611.8 479.1 615.2 478.1 618.8 477.5C621.7 477.0 624.6 476.6 627.5 476.2C630.2 475.9 633.0 475.4 635.8 475.0" stroke="#ff0000" stroke-width="2.35" fill="none" stroke-linejoin="round"/>
<path clip-path="url(#c2)" d="M608.2 482.5C611.8 482.0 615.2 481.6 618.8 481.2C624.4 480.8 630.1 480.7 635.8 480.6" stroke="#ff0000" stroke-width="2.35" fill="none" stroke-linejoin="round"/>
<path clip-path="url(#c3)" d="M652.4 403.8C655.8 404.0 659.1 404.2 662.5 404.4C666.7 404.6 670.8 404.6 675.0 405.0C679.2 405.4 683.3 406.1 687.5 406.2C691.7 406.4 695.8 405.9 700.0 405.6C704.4 405.3 708.8 405.2 713.2 405.0" stroke="#ff0000" stroke-width="2.35" fill="none" stroke-linejoin="round"/>
<path clip-path="url(#c3)" d="M652.4 402.5C654.9 403.9 657.5 405.4 660.0 406.9C662.5 408.3 665.0 409.8 667.5 411.2C670.0 412.7 672.5 414.0 675.0 414.4C677.1 414.7 679.2 414.4 681.2 413.8C684.2 412.8 687.1 411.3 690.0 410.0C693.3 408.5 696.7 407.5 700.0 406.9C704.4 406.1 708.8 406.2 713.2 406.2" stroke="#ff0000" stroke-width="2.35" fill="none" stroke-linejoin="round"/>
<path clip-path="url(#c3)" d="M652.4 407.5C655.8 407.8 659.1 408.0 662.5 408.1C666.7 408.2 670.8 408.1 675.0 408.1C679.2 408.1 683.3 408.3 687.5 407.5C690.0 407.0 692.5 406.1 695.0 406.2C697.9 406.4 700.8 407.8 703.8 408.8C706.9 409.8 710.1 410.2 713.2 410.6" stroke="#ff0000" stroke-width="2.35" fill="none" stroke-linejoin="round"/>
<path clip-path="url(#c3)" d="M652.4 411.2C655.8 411.6 659.1 412.0 662.5 412.5C666.7 413.1 670.8 414.0 675.0 415.0C679.2 416.0 683.3 417.2 687.5 417.5C691.7 417.8 695.8 417.1 700.0 416.2C704.4 415.3 708.8 414.2 713.2 413.1" stroke="#ff0000" stroke-width="2.35" fill="none" stroke-linejoin="round"/>
<path clip-path="url(#c3)" d="M652.4 415.6C655.8 416.2 659.1 416.8 662.5 417.5C666.7 418.3 670.8 419.3 675.0 420.0C678.3 420.6 681.7 421.0 685.0 420.6C688.3 420.3 691.7 419.2 695.0 417.5C697.9 416.0 700.8 414.0 703.8 412.5C706.9 410.9 710.1 409.8 713.2 408.8" stroke="#ff0000" stroke-width="2.35" fill="none" stroke-linejoin="round"/>
<path clip-path="url(#c3)" d="M652.4 420.0C655.8 419.7 659.1 419.4 662.5 419.4C666.7 419.3 670.8 419.6 675.0 420.0C679.2 420.4 683.3 421.1 687.5 421.9C691.7 422.7 695.8 423.7 700.0 424.4C704.4 425.1 708.8 425.3 713.2 425.6" stroke="#ff0000" stroke-width="2.35" fill="none" stroke-linejoin="round"/>
<path clip-path="url(#c3)" d="M652.4 425.0C655.8 424.8 659.1 424.6 662.5 424.4C665.8 424.1 669.2 423.8 672.5 423.8C675.4 423.7 678.3 423.9 681.2 425.0C684.2 426.1 687.1 428.2 690.0 429.4C693.3 430.8 696.7 431.0 700.0 431.2C704.4 431.5 708.8 431.7 713.2 431.9" stroke="#ff0000" stroke-width="2.35" fill="none" stroke-linejoin="round"/>
<path clip-path="url(#c3)" d="M652.4 431.2C654.9 430.4 657.5 429.5 660.0 428.8C663.3 427.8 666.7 427.1 670.0 426.2C673.3 425.4 676.7 424.4 680.0 423.1C682.5 422.1 685.0 421.0 687.5 420.0C690.8 418.7 694.2 417.8 697.5 416.9" stroke="#ff0000" stroke-width="2.35" fill="none" stroke-linejoin="round"/>
<path clip-path="url(#c3)" d="M652.4 436.2C654.9 435.0 657.5 433.8 660.0 432.5C662.5 431.3 665.0 430.0 667.5 428.8C670.0 427.5 672.5 426.2 675.0 425.0C677.1 424.0 679.2 422.9 681.2 421.9" stroke="#ff0000" stroke-width="2.35" fill="none" stroke-linejoin="round"/>
<path clip-path="url(#c3)" d="M652.4 441.2C654.9 439.6 657.5 437.9 660.0 436.2C662.5 434.6 665.0 432.9 667.5 431.2C670.0 429.6 672.5 427.9 675.0 426.2" stroke="#ff0000" stroke-width="2.35" fill="none" stroke-linejoin="round"/>
<path clip-path="url(#c3)" d="M652.4 441.9C655.8 441.7 659.1 441.6 662.5 441.5C666.7 441.4 670.8 441.5 675.0 441.5C679.2 441.5 683.3 441.4 687.5 441.2C691.7 441.1 695.8 440.8 700.0 440.6C704.4 440.4 708.8 440.2 713.2 440.0" stroke="#ff0000" stroke-width="2.35" fill="none" stroke-linejoin="round"/>
<path clip-path="url(#c3)" d="M652.4 445.0C655.8 445.1 659.1 445.2 662.5 445.6C666.7 446.1 670.8 447.2 675.0 446.9C678.3 446.6 681.7 445.6 685.0 446.2C687.5 446.7 690.0 448.2 692.5 450.0C694.6 451.5 696.7 453.3 698.8 453.8C700.8 454.2 702.9 453.4 705.0 452.5C707.8 451.3 710.5 450.0 713.2 448.8" stroke="#ff0000" stroke-width="2.35" fill="none" stroke-linejoin="round"/>
<path clip-path="url(#c3)" d="M680.0 426.2C682.5 428.4 685.0 430.6 687.5 432.5C690.0 434.4 692.5 436.2 695.0 437.5C697.9 439.0 700.8 440.0 703.8 440.6C706.9 441.3 710.1 441.6 713.2 441.9" stroke="#ff0000" stroke-width="2.35" fill="none" stroke-linejoin="round"/>
<path clip-path="url(#c3)" d="M652.4 446.2C655.8 446.6 659.1 446.9 662.5 447.5C666.7 448.3 670.8 449.5 675.0 450.0C679.2 450.5 683.3 450.3 687.5 450.0C691.7 449.7 695.8 449.3 700.0 448.8C704.4 448.2 708.8 447.5 713.2 446.9" stroke="#ff0000" stroke-width="2.35" fill="none" stroke-linejoin="round"/>
<path clip-path="url(#c3)" d="M652.4 454.4C654.9 455.8 657.5 457.3 660.0 458.8C662.5 460.2 665.0 461.6 667.5 462.5C670.8 463.7 674.2 464.0 677.5 463.8C680.8 463.5 684.2 462.8 687.5 461.9C689.6 461.3 691.7 460.6 693.8 460.6C695.4 460.7 697.1 461.2 698.8 463.1C700.4 465.1 702.1 468.5 703.8 471.2C705.4 474.0 707.1 476.1 708.8 477.5C710.2 478.7 711.8 479.4 713.2 480.0" stroke="#ff0000" stroke-width="2.35" fill="none" stroke-linejoin="round"/>
<path clip-path="url(#c3)" d="M652.4 463.1C655.8 463.1 659.1 463.0 662.5 463.1C666.7 463.3 670.8 463.8 675.0 463.8C679.2 463.7 683.3 463.2 687.5 463.1C691.7 463.1 695.8 463.5 700.0 463.8C704.4 464.1 708.8 464.2 713.2 464.4" stroke="#ff0000" stroke-width="2.35" fill="none" stroke-linejoin="round"/>
<path clip-path="url(#c3)" d="M652.4 471.2C655.8 470.1 659.1 469.0 662.5 468.1C665.8 467.3 669.2 466.8 672.5 466.9C675.8 467.0 679.2 467.8 682.5 468.8C685.8 469.7 689.2 470.9 692.5 471.9C695.8 472.8 699.2 473.5 702.5 473.8C706.1 474.0 709.7 473.9 713.2 473.8" stroke="#ff0000" stroke-width="2.35" fill="none" stroke-linejoin="round"/>
<path clip-path="url(#c3)" d="M652.4 475.0C655.8 474.9 659.1 474.8 662.5 475.0C666.7 475.2 670.8 475.8 675.0 476.2C679.2 476.7 683.3 476.9 687.5 476.9C691.7 476.8 695.8 476.4 700.0 476.2C704.4 476.1 708.8 476.2 713.2 476.2" stroke="#ff0000" stroke-width="2.35" fill="none" stroke-linejoin="round"/>
<path clip-path="url(#c3)" d="M652.4 476.2C655.8 474.9 659.1 473.5 662.5 472.5C666.7 471.2 670.8 470.4 675.0 470.0C679.2 469.6 683.3 469.4 687.5 470.0C691.7 470.6 695.8 471.8 700.0 472.5C704.4 473.3 708.8 473.5 713.2 473.8" stroke="#ff0000" stroke-width="2.35" fill="none" stroke-linejoin="round"/>
<path clip-path="url(#c3)" d="M652.4 482.5C655.8 482.1 659.1 481.6 662.5 481.2C666.7 480.8 670.8 480.4 675.0 480.0C679.2 479.6 683.3 479.1 687.5 478.8C691.7 478.4 695.8 478.1 700.0 478.1C704.4 478.1 708.8 478.4 713.2 478.8" stroke="#ff0000" stroke-width="2.35" fill="none" stroke-linejoin="round"/>
<path clip-path="url(#c2)" d="M608.2 485.0C611.8 485.1 615.2 485.1 618.8 485.0C621.7 484.9 624.6 484.6 627.5 484.4C630.2 484.1 633.0 483.9 635.8 483.8" stroke="#ff0000" stroke-width="2.35" fill="none" stroke-linejoin="round"/>
<path clip-path="url(#c2)" d="M608.2 487.5C610.9 487.3 613.6 487.1 616.2 486.9C619.2 486.7 622.1 486.4 625.0 486.2C628.6 486.0 632.2 485.8 635.8 485.6" stroke="#ff0000" stroke-width="2.35" fill="none" stroke-linejoin="round"/>
<path clip-path="url(#c2)" d="M608.2 486.9C610.9 487.8 613.6 488.8 616.2 490.0C619.2 491.4 622.1 493.1 625.0 494.4C627.1 495.3 629.2 496.0 631.2 496.9C632.8 497.5 634.2 498.1 635.8 498.8" stroke="#ff0000" stroke-width="2.35" fill="none" stroke-linejoin="round"/>
<path clip-path="url(#c2)" d="M608.2 502.5C610.9 502.1 613.6 501.6 616.2 500.6C619.2 499.5 622.1 497.8 625.0 496.2C627.1 495.2 629.2 494.2 631.2 493.1C632.8 492.3 634.2 491.5 635.8 490.6" stroke="#ff0000" stroke-width="2.35" fill="none" stroke-linejoin="round"/>
<path clip-path="url(#c2)" d="M608.2 506.9C610.9 506.5 613.6 506.1 616.2 505.6C619.2 505.1 622.1 504.3 625.0 503.8C628.6 503.1 632.2 502.8 635.8 502.5" stroke="#ff0000" stroke-width="2.35" fill="none" stroke-linejoin="round"/>
<path clip-path="url(#c3)" d="M652.4 481.2C655.8 481.4 659.1 481.5 662.5 481.2C666.7 480.9 670.8 480.1 675.0 479.4C679.2 478.7 683.3 478.1 687.5 477.5C691.7 476.9 695.8 476.2 700.0 475.6C704.4 475.1 708.8 474.7 713.2 474.4" stroke="#ff0000" stroke-width="2.35" fill="none" stroke-linejoin="round"/>
<path clip-path="url(#c3)" d="M652.4 483.8C655.8 483.4 659.1 483.1 662.5 482.5C666.7 481.8 670.8 480.8 675.0 480.0C679.2 479.2 683.3 478.6 687.5 478.1C691.7 477.6 695.8 477.2 700.0 476.9C704.4 476.6 708.8 476.4 713.2 476.2" stroke="#ff0000" stroke-width="2.35" fill="none" stroke-linejoin="round"/>
<path clip-path="url(#c3)" d="M652.4 485.0C654.9 483.9 657.5 482.9 660.0 482.5C662.5 482.1 665.0 482.4 667.5 483.1C670.0 483.9 672.5 485.1 675.0 486.9C677.1 488.4 679.2 490.2 681.2 491.9C683.3 493.6 685.4 495.1 687.5 496.9C690.0 499.1 692.5 501.7 695.0 503.8C697.5 505.8 700.0 507.3 702.5 508.8C704.6 510.0 706.7 511.3 708.8 511.9C710.2 512.3 711.8 512.4 713.2 512.5" stroke="#ff0000" stroke-width="2.35" fill="none" stroke-linejoin="round"/>
<path clip-path="url(#c3)" d="M652.4 491.9C654.9 490.4 657.5 488.9 660.0 487.5C663.3 485.6 666.7 483.8 670.0 482.5C673.3 481.2 676.7 480.6 680.0 480.0C683.3 479.4 686.7 478.8 690.0 478.8C693.3 478.7 696.7 479.1 700.0 479.4C704.4 479.7 708.8 479.9 713.2 480.0" stroke="#ff0000" stroke-width="2.35" fill="none" stroke-linejoin="round"/>
<path clip-path="url(#c3)" d="M652.4 499.4C655.8 499.7 659.1 500.0 662.5 500.0C665.8 500.0 669.2 499.6 672.5 498.8C675.4 498.0 678.3 496.8 681.2 495.6C684.2 494.4 687.1 493.2 690.0 491.9C692.9 490.6 695.8 489.2 698.8 488.1C701.2 487.2 703.8 486.6 706.2 486.2C708.6 485.9 710.9 485.8 713.2 485.6" stroke="#ff0000" stroke-width="2.35" fill="none" stroke-linejoin="round"/>
<path clip-path="url(#c3)" d="M652.4 502.5C655.8 502.6 659.1 502.7 662.5 503.1C666.7 503.6 670.8 504.6 675.0 505.6C679.2 506.7 683.3 507.8 687.5 508.8C691.7 509.7 695.8 510.6 700.0 511.2C704.4 511.9 708.8 512.2 713.2 512.5" stroke="#ff0000" stroke-width="2.35" fill="none" stroke-linejoin="round"/>
<path clip-path="url(#c0)" d="M379.0 468.8C381.8 469.0 384.7 469.2 387.5 469.6C390.3 470.0 393.1 470.6 395.8 471.2C398.6 471.9 401.4 472.6 404.2 473.3C406.9 474.0 409.7 474.7 412.5 475.2C415.3 475.6 418.1 475.9 420.8 476.2C423.6 476.6 426.4 477.0 429.2 477.5C431.9 478.0 434.7 478.7 437.5 479.0C441.3 479.4 445.2 479.1 449.0 478.8" stroke="#ff0000" stroke-width="2.35" fill="none" stroke-linejoin="round"/>
<path clip-path="url(#c0)" d="M379.0 482.5C381.8 482.1 384.7 481.8 387.5 481.2C391.7 480.5 395.8 479.4 400.0 478.3C402.8 477.6 405.6 477.0 408.3 475.8C411.1 474.7 413.9 473.0 416.7 471.7C419.4 470.3 422.2 469.3 425.0 468.3C427.8 467.4 430.6 466.4 433.3 465.8C436.1 465.2 438.9 465.0 441.7 464.8C444.1 464.7 446.6 464.6 449.0 464.5" stroke="#ff0000" stroke-width="2.35" fill="none" stroke-linejoin="round"/>
<path clip-path="url(#c0)" d="M379.0 473.8C386.0 473.8 393.0 473.8 400.0 473.8C408.3 473.9 416.7 473.9 425.0 474.0C433.0 474.1 441.0 474.1 449.0 474.2" stroke="#ff0000" stroke-width="2.35" fill="none" stroke-linejoin="round"/>
<path clip-path="url(#c0)" d="M379.0 475.0C386.0 474.9 393.0 474.8 400.0 474.8C408.3 474.8 416.7 474.9 425.0 475.2C433.0 475.4 441.0 475.8 449.0 476.1" stroke="#ff0000" stroke-width="2.35" fill="none" stroke-linejoin="round"/>
<path clip-path="url(#c0)" d="M379.0 476.7C383.2 476.5 387.4 476.4 391.7 476.2C397.2 476.0 402.8 475.7 408.3 475.4C413.9 475.2 419.4 475.1 425.0 475.0C433.0 474.9 441.0 475.0 449.0 475.0" stroke="#ff0000" stroke-width="2.35" fill="none" stroke-linejoin="round"/>
<path clip-path="url(#c0)" d="M379.0 480.0C381.8 479.9 384.7 479.8 387.5 479.6C391.7 479.2 395.8 478.4 400.0 477.5C403.3 476.8 406.7 475.9 410.0 475.4C415.0 474.7 420.0 474.8 425.0 474.8C433.0 474.9 441.0 474.7 449.0 474.5" stroke="#ff0000" stroke-width="2.35" fill="none" stroke-linejoin="round"/>
<path clip-path="url(#c0)" d="M379.0 486.2C383.2 486.4 387.4 486.6 391.7 486.7C397.2 486.8 402.8 486.8 408.3 486.2C412.5 485.9 416.7 485.2 420.8 484.2C425.0 483.1 429.2 481.8 433.3 480.8C437.5 479.9 441.7 479.4 445.8 478.8C446.9 478.6 447.9 478.4 449.0 478.2" stroke="#ff0000" stroke-width="2.35" fill="none" stroke-linejoin="round"/>
<path clip-path="url(#c0)" d="M449.0 381.2C452.8 381.3 456.5 381.5 460.3 382.1C464.1 382.6 467.8 383.7 471.6 385.2C474.7 386.4 477.8 387.9 480.9 388.9C484.8 390.1 488.6 390.6 492.5 391.1" stroke="#ff0000" stroke-width="2.35" fill="none" stroke-linejoin="round"/>
<path clip-path="url(#c0)" d="M449.0 406.2C455.0 405.8 460.9 405.4 466.9 404.8C470.0 404.6 473.1 404.2 476.2 403.4C479.4 402.7 482.5 401.4 485.6 400.2C487.9 399.2 490.2 398.3 492.5 397.3" stroke="#ff0000" stroke-width="2.35" fill="none" stroke-linejoin="round"/>
<path clip-path="url(#c0)" d="M449.0 406.2C453.4 406.8 457.8 407.3 462.2 408.1C465.3 408.7 468.4 409.5 471.6 410.9C474.7 412.4 477.8 414.6 480.9 416.6C483.4 418.2 485.9 419.7 488.4 421.2C489.8 422.1 491.1 423.0 492.5 423.9" stroke="#ff0000" stroke-width="2.35" fill="none" stroke-linejoin="round"/>
<path clip-path="url(#c0)" d="M449.0 430.1C453.4 429.9 457.8 429.7 462.2 428.7C465.3 428.1 468.4 427.1 471.6 425.9C474.7 424.8 477.8 423.5 480.9 422.2C484.8 420.5 488.6 418.8 492.5 417.0" stroke="#ff0000" stroke-width="2.35" fill="none" stroke-linejoin="round"/>
<path clip-path="url(#c0)" d="M449.0 440.2C451.8 440.3 454.7 440.4 457.5 440.0C460.6 439.6 463.7 438.6 466.9 437.7C470.0 436.7 473.1 435.9 476.2 435.3C479.4 434.7 482.5 434.4 485.6 433.9C487.9 433.5 490.2 433.0 492.5 432.5" stroke="#ff0000" stroke-width="2.35" fill="none" stroke-linejoin="round"/>
<path clip-path="url(#c0)" d="M450.9 447.0C454.7 445.9 458.4 444.9 462.2 443.7C465.3 442.8 468.4 441.9 471.6 440.9C474.7 440.0 477.8 439.0 480.9 438.1C484.8 437.1 488.6 436.2 492.5 435.3" stroke="#ff0000" stroke-width="2.35" fill="none" stroke-linejoin="round"/>
<path clip-path="url(#c0)" d="M476.2 447.0C479.4 445.5 482.5 443.9 485.6 442.8C487.9 442.0 490.2 441.5 492.5 440.9" stroke="#ff0000" stroke-width="2.35" fill="none" stroke-linejoin="round"/>
<path clip-path="url(#c4)" d="M730.3 179.4 L730.9 183.3 L734.4 186.4 L743.8 188.0 L764.1 190.3 L790.6 193.1 L771.9 194.7 L750.0 196.9 L759.4 198.1 L773.4 199.4 L756.2 201.2 L740.6 203.6 L732.8 206.2 L730.9 208.3 L730.9 211.9 L734.4 213.8 L739.1 218.4 L743.8 223.9 L745.3 228.6 L744.1 231.7 L746.9 233.8 L760.9 235.3 L774.2 236.4 L775.0 238.8 L778.9 242.2 L784.4 245.3 L776.6 247.3 L760.9 250.5 L745.3 253.6 L740.6 257.8 L745.3 260.6 L756.2 262.3 L758.6 266.2 L760.9 269.4 L771.9 271.7 L776.6 274.8 L773.4 275.6 L784.4 278.0 L796.1 279.5 L771.9 281.1 L748.4 283.1 L739.1 284.7 L745.3 286.2 L750.0 287.3 L740.6 289.7 L732.8 292.8 L734.4 296.7 L738.3 301.4 L738.3 306.9 L740.6 313.1 L744.5 318.6 L750.0 321.7 L758.6 324.1 L763.3 328.0 L760.9 331.9 L756.2 335.0 L768.8 336.6 L777.3 337.8 L767.2 340.0 L753.1 342.8 L742.2 345.9 L735.9 349.8 L739.8 354.7 L737.5 357.8 L756.2 360.2 L779.7 362.2 L795.3 364.4 L803.1 366.4 L787.5 368.0 L763.3 369.5 L787.5 371.1 L818.8 372.7 L850.0 374.5 L834.4 375.8 L814.1 376.9 L834.4 377.8 L853.1 378.9 L834.4 380.5 L814.1 382.8 L825.0 384.7 L836.7 386.2 L818.8 387.8 L795.3 389.8 L781.2 391.9 L771.9 394.5 L765.6 396.4 L776.6 397.7 L787.5 399.2 L785.2 401.6 L796.9 403.4 L784.4 405.0 L769.5 406.2 L768.8 409.1 L781.2 410.9 L764.1 412.5 L775.0 414.8 L779.7 416.4 L764.1 417.5 L754.7 420.3 L760.2 423.4 L758.6 425.8 L764.1 427.3 L753.1 430.5 L757.8 433.6 L758.6 437.5 L760.9 440.0 L759.4 444.7 L757.8 448.6 L760.9 450.9 L750.0 454.8 L752.3 457.2 L743.8 460.3 L744.5 463.4 L737.5 466.6 L744.5 468.9 L745.3 472.0 L739.1 475.2 L745.3 478.3 L752.3 480.9 L743.8 483.8 L739.8 486.1 L743.8 490.0 L742.2 493.9 L734.4 495.5 L742.2 497.8 L743.8 502.5 L738.3 505.6 L734.4 510.3 L732.0 516.6 L730.9 524.4 L729.8 540.0" stroke="#1f77b4" stroke-width="2.60" fill="none" stroke-linejoin="round"/>
<path clip-path="url(#c4)" d="M730.3 182.5 L730.9 187.2 L733.6 189.5 L737.5 191.9 L733.6 193.4 L732.0 195.8 L734.4 198.1 L736.7 199.4 L733.6 201.2 L730.9 203.6 L730.9 216.9 L732.0 232.5 L734.4 234.8 L739.1 236.9 L735.2 238.8 L736.7 243.4 L734.4 248.1 L732.0 251.2 L731.2 254.4 L731.2 260.0 L731.2 271.7 L739.1 273.3 L751.6 274.8 L756.2 278.0 L750.0 281.1 L742.2 284.2 L753.1 285.8 L768.0 287.3 L751.6 289.7 L737.5 292.0 L732.8 294.4 L737.5 297.5 L745.3 299.8 L750.8 301.9 L745.3 303.8 L746.1 308.4 L750.8 313.1 L755.5 316.2 L750.0 319.1 L745.3 320.6 L753.1 323.3 L753.9 326.4 L745.3 328.8 L741.4 332.7 L743.8 336.6 L749.2 339.7 L751.6 342.8 L742.2 345.9 L734.4 350.6 L735.2 350.0 L734.4 356.2 L736.7 361.7 L732.8 365.6 L733.6 370.3 L735.9 375.8 L739.8 378.9 L736.7 382.8 L733.6 388.3 L732.0 395.3 L734.4 401.6 L736.7 409.4 L734.4 412.5 L737.5 414.8 L735.9 420.3 L737.5 428.1 L735.9 434.4 L738.3 440.6 L736.7 440.0 L735.2 446.2 L742.2 450.9 L735.2 455.6 L735.9 460.3 L732.0 466.6 L733.6 471.2 L732.0 475.9 L735.9 482.2 L732.8 488.4 L732.8 494.7 L732.0 502.5 L730.9 510.3 L729.8 527.5" stroke="#ff7f0e" stroke-width="2.60" fill="none" stroke-linejoin="round"/>
<path clip-path="url(#c4)" d="M729.7 185.6 L729.8 188.8 L730.2 201.2 L729.8 216.9 L730.0 248.1 L730.0 260.0 L730.2 291.2 L730.6 322.5 L730.6 353.8 L730.9 362.5 L732.8 367.2 L736.7 373.4 L739.1 378.9 L735.9 383.6 L735.2 388.3 L734.4 393.8 L736.7 396.9 L742.2 400.0 L753.9 403.9 L753.1 407.0 L754.7 409.4 L764.8 410.9 L747.7 413.3 L779.7 414.4 L807.8 415.6 L792.2 417.5 L781.2 420.3 L787.5 423.4 L789.1 427.3 L762.5 430.5 L775.0 434.4 L764.1 437.5 L756.2 440.0 L757.0 444.7 L746.1 447.0 L747.7 449.4 L738.3 454.1 L739.1 458.0 L735.2 461.9 L732.8 466.6 L733.6 471.2 L732.8 479.1 L732.8 486.9 L732.0 494.7 L733.6 502.5 L732.0 510.3 L730.9 518.1 L729.8 533.8" stroke="#2ca02c" stroke-width="2.60" fill="none" stroke-linejoin="round"/>
<path clip-path="url(#c4)" d="M730.3 180.9 L730.9 185.6 L734.4 188.0 L742.2 190.3 L750.0 192.7 L742.2 194.2 L736.7 195.8 L739.8 197.3 L743.8 198.9 L739.1 200.5 L734.4 202.0 L730.9 205.2 L732.0 210.6 L732.8 216.9 L733.6 232.5 L735.9 237.2 L734.4 241.9 L736.7 246.6 L734.4 251.2 L732.8 257.5 L732.0 260.0 L734.4 264.7 L733.6 269.4 L736.7 271.7 L735.9 275.6 L736.7 279.5 L733.6 283.4 L734.4 287.3 L732.0 291.2 L731.2 299.1 L732.8 306.9 L732.8 314.7 L734.4 322.5 L738.3 327.2 L738.3 331.9 L742.2 335.0 L748.4 337.7 L740.6 339.7 L734.4 342.0 L731.2 345.2 L730.9 353.1 L731.2 359.4 L735.2 364.1 L741.4 366.4 L732.8 370.3 L740.6 373.1 L749.2 374.2 L739.8 376.9 L745.3 378.9 L740.6 382.8 L743.8 386.7 L736.7 389.8 L733.6 395.3 L735.9 400.0 L740.6 403.9 L748.4 407.5 L750.8 410.2 L737.5 413.3 L746.1 414.8 L740.6 418.8 L741.4 423.4 L745.3 427.3 L749.2 431.2 L746.1 436.7 L748.4 439.8 L764.1 442.3 L778.9 444.4 L764.1 446.2 L752.3 448.6 L764.1 450.2 L775.8 451.4 L764.1 452.8 L750.0 454.8 L756.2 457.2 L765.6 459.5 L766.4 463.4 L750.8 466.6 L771.9 467.8 L787.5 468.9 L795.3 471.2 L787.5 473.6 L779.7 476.2 L795.3 478.3 L818.8 480.9 L795.3 482.2 L768.8 483.4 L771.9 485.3 L769.5 490.0 L767.2 493.9 L744.5 495.5 L765.6 496.6 L766.4 500.2 L780.5 502.5 L764.1 504.4 L748.4 507.2 L740.6 511.1 L735.9 516.6 L732.8 522.8 L730.9 529.1 L729.8 540.0" stroke="#d62728" stroke-width="2.60" fill="none" stroke-linejoin="round"/>
<path clip-path="url(#c4)" d="M730.3 178.6 L730.9 182.5 L735.9 185.6 L748.4 188.0 L771.9 190.0 L816.4 193.0 L790.6 193.8 L768.8 195.3 L758.6 197.3 L776.6 198.9 L793.8 199.7 L771.9 200.9 L748.4 203.1 L734.4 206.2 L730.9 208.8 L730.9 211.4 L735.9 213.8 L742.2 216.9 L748.4 222.3 L751.6 228.6 L748.4 233.3 L764.1 234.8 L789.1 236.4 L785.2 240.3 L795.3 245.5 L784.4 247.8 L764.1 250.5 L748.4 253.6 L743.8 257.5 L748.4 260.6 L762.5 262.3 L764.1 267.8 L779.7 271.2 L795.3 274.1 L812.5 277.2 L828.9 279.8 L803.1 281.1 L771.9 283.1 L756.2 284.7 L775.0 286.2 L792.2 287.3 L771.9 288.9 L748.4 291.2 L734.4 294.1 L740.6 296.7 L753.1 299.1 L763.3 301.4 L755.5 304.5 L757.8 310.0 L764.1 313.9 L770.3 317.0 L765.6 320.2 L760.2 321.2 L776.6 323.3 L793.8 326.4 L787.5 329.5 L777.3 333.4 L778.1 335.8 L798.4 336.9 L814.8 337.8 L795.3 339.7 L776.6 342.0 L756.2 345.2 L745.3 348.3 L741.4 352.2 L745.3 355.5 L740.6 357.8 L764.1 359.7 L795.3 362.2 L820.3 366.4 L795.3 368.4 L768.8 370.0 L803.1 371.6 L842.2 373.1 L878.1 374.5 L834.4 376.6 L881.2 378.4 L865.6 380.5 L834.4 383.6 L873.4 386.7 L834.4 388.3 L803.1 390.9 L784.4 393.8 L776.6 396.4 L795.3 397.7 L806.2 399.2 L818.8 401.6 L837.5 403.9 L810.9 405.5 L821.9 407.8 L843.8 410.6 L818.8 412.2 L778.1 413.6 L818.8 414.8 L865.6 416.4 L834.4 418.0 L821.9 420.3 L834.4 423.4 L848.4 427.0 L825.0 428.9 L807.8 430.5 L818.8 432.8 L828.1 435.2 L812.5 437.5 L810.9 440.6 L826.6 443.0 L856.2 444.5 L818.8 446.1 L798.4 447.7 L818.8 449.4 L839.8 451.4 L818.8 452.8 L787.5 454.8 L803.1 458.8 L781.2 461.9 L796.9 463.8 L765.6 466.6 L795.3 467.8 L814.1 468.9 L818.8 471.2 L809.4 473.6 L795.3 476.2 L818.8 478.3 L853.1 480.9 L818.8 482.2 L790.6 483.8 L789.1 486.9 L790.6 490.0 L787.5 493.1 L754.7 495.5 L784.4 497.8 L785.2 500.2 L801.6 502.8 L779.7 504.4 L756.2 507.2 L745.3 511.9 L739.1 518.1 L734.4 524.4 L731.2 532.2 L729.8 540.0" stroke="#000000" stroke-width="1.40" fill="none" stroke-linejoin="round" stroke-dasharray="1.4 2.3"/>
<rect x="120.00" y="162.00" width="372.50" height="403.00" fill="none" stroke="#000" stroke-width="2"/>
<rect x="508.80" y="162.00" width="82.50" height="403.00" fill="none" stroke="#000" stroke-width="2"/>
<rect x="608.20" y="162.00" width="27.50" height="403.00" fill="none" stroke="#000" stroke-width="2"/>
<rect x="652.40" y="162.00" width="60.80" height="403.00" fill="none" stroke="#000" stroke-width="2"/>
<rect x="729.60" y="162.00" width="134.30" height="403.00" fill="none" stroke="#000" stroke-width="2"/>
<g style="will-change:transform;transform:translateZ(0)">
<text x="111.8" y="551.40" font-size="22" text-anchor="end">0</text>
<text x="111.8" y="502.94" font-size="22" text-anchor="end">1</text>
<text x="111.8" y="454.48" font-size="22" text-anchor="end">2</text>
<text x="111.8" y="406.02" font-size="22" text-anchor="end">3</text>
<text x="111.8" y="357.56" font-size="22" text-anchor="end">4</text>
<text x="111.8" y="309.10" font-size="22" text-anchor="end">5</text>
<text x="111.8" y="260.64" font-size="22" text-anchor="end">6</text>
<text x="111.8" y="212.18" font-size="22" text-anchor="end">7</text>
<text x="120.00" y="587.40" font-size="22" text-anchor="middle">Γ</text>
<text x="208.75" y="587.40" font-size="22" text-anchor="middle">X</text>
<text x="243.75" y="587.40" font-size="22" text-anchor="middle">P</text>
<text x="306.75" y="587.40" font-size="22" text-anchor="middle">N</text>
<text x="378.75" y="587.40" font-size="22" text-anchor="middle">Γ</text>
<text x="449.00" y="587.40" font-size="22" text-anchor="middle">M</text>
<text x="491.30" y="587.40" font-size="22" text-anchor="middle">S</text>
<text x="508.00" y="587.40" font-size="22" text-anchor="middle">S<tspan font-size="15.4" dy="3.2" dx="1">0</tspan></text>
<text x="591.00" y="587.40" font-size="22" text-anchor="middle">Γ</text>
<text x="608.00" y="587.40" font-size="22" text-anchor="middle">X</text>
<text x="636.00" y="587.40" font-size="22" text-anchor="middle">R</text>
<text x="652.50" y="587.40" font-size="22" text-anchor="middle">G</text>
<text x="713.00" y="587.40" font-size="22" text-anchor="middle">M</text>
<text x="728.60" y="588.60" font-size="22" text-anchor="middle">0</text>
<text x="809.30" y="588.60" font-size="22" text-anchor="middle">10</text>
<text transform="translate(85.7 363.3) rotate(-90)" font-size="22" text-anchor="middle" textLength="165" lengthAdjust="spacing">Frequency (THz)</text>
</g>
</svg></body></html>
